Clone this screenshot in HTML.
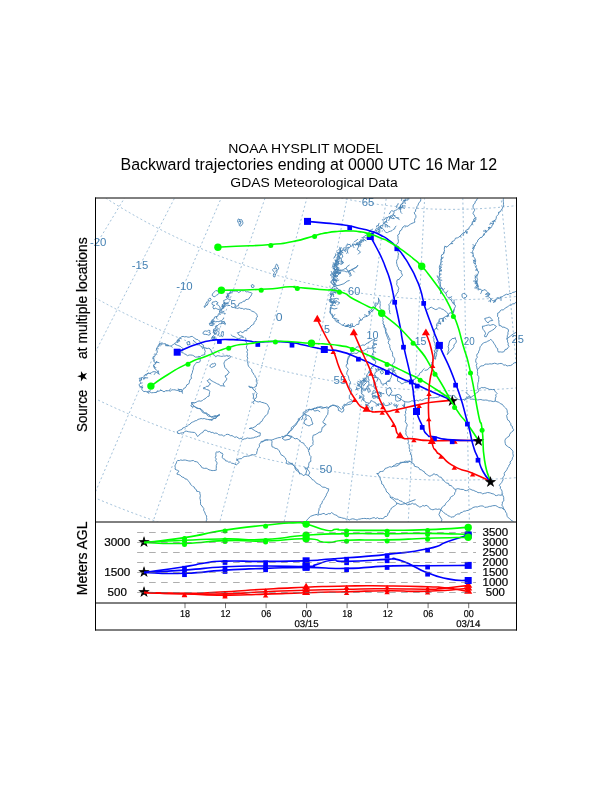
<!DOCTYPE html>
<html><head><meta charset="utf-8"><title>NOAA HYSPLIT MODEL</title>
<style>html,body{margin:0;padding:0;background:#fff}svg{display:block}</style></head>
<body><svg width="612" height="792" viewBox="0 0 612 792">
<rect width="612" height="792" fill="#fff"/>
<defs><clipPath id="mc"><rect x="96" y="198.5" width="420" height="323"/></clipPath></defs>
<g clip-path="url(#mc)"><path d="M157.2,-71.0 L-285.1,334.5 M177.0,-50.8 L-235.5,384.9 M198.2,-32.1 L-182.4,431.7 M220.7,-14.9 L-126.2,474.6 M244.4,0.6 L-67.1,513.4 M269.0,14.4 L-5.4,548.0 M294.6,26.4 L58.6,578.1 M321.0,36.6 L124.6,603.6 M348.1,45.0 L192.2,624.3 M375.6,51.3 L261.1,640.3 M403.6,55.8 L330.9,651.3 M431.7,58.2 L401.4,657.4 M460.0,58.6 L472.1,658.5 M488.3,57.1 L542.7,654.6 M516.3,53.5 L612.9,645.7 M544.1,48.0 L682.2,631.8 M571.4,40.5 L750.4,613.1 M30.1,12.7 A550.7,550.7 0 0 0 594.5,190.6 M-39.0,70.7 A641.0,641.0 0 0 0 617.9,277.9 M-108.7,129.2 A732.0,732.0 0 0 0 641.5,365.8 M-177.3,186.8 A821.5,821.5 0 0 0 664.6,452.2 M-246.6,244.9 A912,912 0 0 0 688.0,539.6" fill="none" stroke="#4682b4" stroke-width="0.6" stroke-dasharray="2.0,2.5" opacity="0.85"/>
<path d="M227.9,294.3 L229.2,293.4 L230.6,292.4 L232.1,291.8 L233.6,291.1 L235.3,291.1 L237.0,291.1 L238.4,292.6 L240.0,291.8 L241.4,290.6 L243.1,290.9 L244.7,290.6 L246.2,291.9 L247.8,291.7 L249.3,292.3 L250.9,292.6 L252.2,293.5 L251.4,294.8 L251.0,296.0 L249.8,297.0 L249.1,298.7 L247.6,299.4 L245.8,299.6 L244.9,301.2 L243.1,301.2 L242.0,302.6 L240.3,302.9 L238.8,303.7 L238.5,305.7 L236.7,306.1 L235.5,307.1 L235.1,308.3 L235.9,307.8 L237.6,308.5 L239.2,307.7 L240.8,308.4 L242.4,308.4 L243.9,309.3 L245.6,308.6 L247.1,309.2 L248.8,309.3 L250.3,309.8 L251.6,311.0 L253.1,311.5 L254.5,312.2 L255.7,313.1 L256.7,314.1 L257.1,315.4 L257.5,316.9 L256.1,318.1 L256.4,320.0 L255.1,321.1 L254.2,322.4 L253.8,324.1 L252.3,324.9 L251.0,325.9 L250.0,327.1 L249.0,328.5 L247.2,328.8 L246.7,330.8 L244.7,330.5 L243.7,332.1 L242.1,332.6 L240.5,331.4 L239.0,332.5 L237.3,332.8 L238.1,333.6 L239.1,335.2 L240.6,335.8 L242.1,336.0 L243.7,337.3 L241.5,337.1 L240.1,338.3 L238.5,338.5 L236.8,338.3 L235.4,337.2 L234.0,336.6 L232.5,336.1 L230.8,334.6 M227.9,294.3 L227.3,295.8 L225.9,296.9 L227.5,298.4 L226.2,299.4 L224.9,300.0 L223.3,300.9 L224.6,302.0 L224.4,303.0 L223.4,303.7 L222.3,304.8 L222.2,306.2 L222.1,307.3 L223.9,307.9 L222.0,308.7 L220.4,309.3 L219.6,310.8 L219.5,312.3 L220.3,312.8 L219.2,313.2 L218.2,314.6 L217.9,316.2 L216.0,316.6 L214.5,317.1 L214.0,319.1 L212.4,319.7 L211.5,320.9 L210.7,322.6 L212.6,322.1 L214.1,321.6 L215.7,321.8 L217.3,321.5 L218.9,321.7 L220.5,320.7 L221.7,322.1 L222.1,322.3 L221.4,323.9 L219.5,323.7 L218.3,325.0 L217.0,325.9 L215.4,326.2 L215.4,326.7 L215.8,328.0 L215.2,328.7 L213.5,329.3 L213.7,331.1 L213.0,332.5 L214.6,333.0 L214.5,334.5 L213.3,335.7 L212.6,337.1 L211.3,338.0 L212.5,339.2 L214.5,341.2 M212.1,295.4 L212.5,293.9 L213.5,292.6 L214.8,291.6 L215.8,290.5 L217.1,290.8 L218.1,291.3 L219.2,292.9 L218.1,294.4 L216.6,295.2 L215.4,296.2 L214.1,296.8 L212.1,295.4 M208.3,299.5 L209.9,297.9 L211.2,299.2 L209.9,301.1 L208.3,301.1Z M205.8,303.6 L207.2,301.5 L208.3,302.8 L207.2,305.2 L205.8,305.7Z M204.1,306.4 L205.0,305.7 L205.4,307.0 L204.4,307.4Z M212.5,302.0 L214.2,301.9 L215.4,301.3 L217.0,301.7 L218.1,303.0 L216.3,304.0 L217.4,304.7 L218.8,305.5 L219.7,306.8 L220.4,308.4 L219.0,309.5 L217.6,309.2 L216.3,308.5 L215.1,308.0 L214.1,309.2 L213.0,307.9 L213.0,306.4 L214.7,305.4 L212.9,305.1 L211.9,303.9 L212.5,302.0 M209.3,323.2 L212.1,324.0 L214.5,323.7 L212.9,325.7 L209.9,325.3Z M203.9,331.4 L205.4,330.9 L207.1,331.3 L208.6,330.3 L209.9,330.5 L209.9,331.4 L208.9,332.6 L210.6,333.2 L210.3,334.3 L208.8,335.2 L207.3,334.6 L205.7,334.4 L204.0,334.3 L202.8,333.4 L203.9,331.4 M217.0,330.6 L218.1,331.7 L219.3,332.7 L218.6,334.2 L218.5,335.3 L219.5,336.2 L220.4,336.1 L221.7,336.1 L221.1,334.6 L221.6,333.4 L221.9,331.6 L223.4,331.7 L223.4,333.6 L223.3,335.2 L222.4,337.1 M159.0,343.9 L160.5,343.3 L162.1,342.9 L163.6,343.8 L165.3,343.7 L166.6,344.6 L168.1,345.1 L169.5,345.9 L171.1,346.1 L172.2,345.2 L173.6,344.4 L174.6,343.3 L176.3,342.6 L177.1,341.2 L177.9,339.8 L178.9,338.5 L180.3,337.8 L181.6,336.7 L183.1,336.4 L184.7,336.9 L186.3,336.6 L187.9,337.2 L189.6,337.1 L191.0,336.5 L192.3,336.4 L193.5,337.4 L194.8,338.3 L196.1,339.3 L197.8,339.6 L198.9,340.7 L200.2,341.6 L201.3,342.8 L201.8,344.4 L203.6,345.2 L203.2,347.2 L204.4,348.4 L204.7,349.9 L205.3,351.4 L204.7,352.7 L204.9,354.6 L203.1,355.0 L201.6,355.4 L200.4,356.6 L198.4,356.4 L199.0,357.7 L199.9,358.9 L200.4,360.1 L199.8,361.9 L198.2,362.5 L196.4,362.4 L195.6,363.7 L194.6,364.8 L193.8,366.2 L193.3,367.7 L193.3,369.4 L192.6,370.8 L192.4,372.5 L191.8,373.8 L191.2,375.2 L191.1,376.8 L191.6,378.4 L190.0,379.6 L189.5,381.1 L189.3,382.7 L188.5,384.1 L186.8,384.8 L186.2,386.4 L185.3,387.8 L183.7,388.4 L182.9,389.8 L181.9,391.0 L180.9,391.2 L179.1,391.6 L177.9,390.3 L176.2,390.3 L175.0,389.8 L173.5,389.8 L171.9,389.8 L170.5,391.1 L168.8,390.7 L167.2,390.8 L165.6,390.8 L164.0,391.9 L162.5,390.9 L160.9,390.2 L159.4,391.0 L157.8,391.3 L156.5,392.4 L154.9,392.5 L153.4,392.6 L151.7,392.8 L150.3,392.3 L148.7,391.2 L147.2,392.1 L145.8,391.4 L143.9,391.6 L142.6,390.6 L141.8,389.3 L142.1,388.4 L142.9,386.9 L140.8,387.4 L139.6,386.2 L139.1,384.8 L139.8,383.7 L141.2,383.1 L141.0,382.5 L139.7,381.4 L139.9,379.7 L139.2,378.3 L141.0,378.1 L142.4,377.5 L143.9,378.1 L145.2,377.9 L144.0,376.5 L144.1,375.5 L145.6,374.9 L146.8,373.7 L148.4,373.3 L150.2,373.5 L151.5,372.6 L152.9,371.8 L154.6,371.6 L156.1,372.1 L157.5,373.1 L159.4,374.3 L157.9,372.6 L157.6,371.0 L156.4,370.0 L155.1,369.0 L154.2,367.6 L153.5,366.2 L153.8,364.6 L155.5,363.9 L155.3,362.5 L153.8,361.5 L154.0,359.6 L153.3,358.3 L153.1,356.8 L155.0,356.2 L155.3,354.3 L156.5,353.4 L157.3,352.2 L157.1,350.6 L156.4,349.0 L157.0,347.4 L158.7,346.5 L159.0,343.9 M174.5,343.9 L176.0,344.6 L177.4,345.3 L178.9,345.8 L180.4,346.4 L181.4,347.4 L182.8,348.3 L183.8,349.6 L182.1,350.8 L181.6,352.5 L183.4,353.0 L184.6,353.9 L186.0,354.5 L187.4,355.7 L189.2,355.0 L190.8,355.0 L192.4,355.2 L193.9,355.9 L195.3,357.1 L198.2,357.0 M186.8,342.3 L189.2,341.4 L190.1,344.4 L187.6,345.0Z M245.2,337.5 L246.0,339.0 L245.4,340.8 L246.3,342.2 L247.0,343.8 L246.9,345.4 L246.3,347.1 L246.7,348.6 L247.8,350.1 L246.8,351.8 L247.5,353.4 L247.3,355.0 L247.1,356.6 L247.8,358.2 L247.1,359.8 L247.3,361.4 L247.9,363.0 L248.0,364.7 L248.5,366.2 L249.6,367.5 L250.7,368.6 L251.8,369.8 L251.9,371.7 L253.1,372.8 L253.7,374.3 L254.8,375.5 L255.3,377.1 L256.5,378.3 L256.3,380.1 L256.4,381.7 L257.4,383.1 L256.3,384.5 L256.4,386.3 L255.0,386.9 L253.5,387.8 L251.9,387.2 L250.4,386.9 L248.9,386.0 L248.7,386.4 L249.9,387.5 L251.6,387.6 L252.9,388.7 L253.8,390.1 L255.1,390.9 L255.9,392.2 L257.1,393.5 L256.3,395.0 L256.6,396.7 L255.9,398.2 L254.5,399.3 L254.4,401.0 L252.8,402.1 L254.1,404.1 M193.3,340.0 L194.0,341.5 L195.6,342.2 L196.5,343.6 L198.4,343.6 L199.5,344.8 L200.4,346.1 L201.9,346.9 L202.6,348.7 L204.2,347.4 L205.7,348.1 L207.1,348.5 L209.0,348.1 L210.3,349.1 L211.1,350.4 L211.4,351.9 L213.0,353.0 L213.1,354.6 L214.5,355.2 L215.6,356.8 L217.2,355.7 L218.8,355.8 L220.3,356.2 L221.9,356.4 L223.4,356.0 L225.1,356.1 L226.6,355.7 L228.1,356.3 L229.9,355.7 L230.7,356.7 L229.7,358.1 L228.0,358.6 L226.9,359.9 L225.3,360.3 L224.6,361.7 L223.9,363.1 L224.2,364.4 L224.5,366.0 L225.0,367.7 L226.1,368.9 L227.4,369.9 L228.0,371.2 L229.4,372.4 L227.9,373.5 L227.2,375.0 L225.3,375.6 L225.4,377.2 L226.8,378.3 L226.5,379.9 L225.4,381.1 L224.5,382.5 L223.1,383.7 L223.8,385.4 L224.7,386.3 L223.7,386.0 L222.2,385.7 L220.4,385.9 L219.2,384.4 L217.7,384.0 L216.3,383.3 L214.9,382.5 L213.5,381.8 L212.1,381.0 L210.7,380.3 L209.6,378.7 L208.3,380.2 L207.2,380.7 L208.3,382.0 L209.1,383.0 L210.6,383.8 L209.2,384.8 L208.3,386.4 L206.4,386.3 L205.2,387.5 L203.5,387.7 L203.6,388.8 L205.0,388.7 L206.5,389.5 L208.0,389.9 L209.2,390.4 L209.8,391.5 L209.5,392.8 L209.3,394.3 L209.1,396.1 L207.3,396.7 L206.2,397.8 L205.0,398.8 L203.5,399.5 L202.3,400.6 L200.8,401.2 L199.1,400.9 L197.5,401.4 L196.1,402.3 L194.5,402.8 L192.9,402.5 L191.5,402.7 L191.8,404.4 L190.8,406.0 L192.4,406.9 L194.3,406.6 L195.7,407.5 L197.0,408.4 L198.7,408.4 L200.5,408.6 L201.2,410.3 L202.0,411.8 L203.3,412.8 L204.8,413.2 L206.7,412.9 L207.7,414.4 L209.3,414.8 L210.2,416.5 L211.8,417.1 L213.5,417.1 L215.0,416.4 L216.7,416.5 L218.2,415.8 L219.6,415.1 L219.3,415.3 L217.8,415.9 L216.5,416.7 L215.7,418.6 L213.8,418.2 L212.4,419.1 L209.6,420.1 M209.6,366.1 L210.8,365.1 L211.8,363.8 L213.5,363.8 L214.8,363.0 L215.3,363.7 L215.6,364.8 L214.7,366.3 L213.1,366.8 L211.6,367.6 L209.6,366.1 M191.8,402.0 L192.2,403.5 L192.8,405.1 L194.3,406.0 L195.3,407.1 L196.9,407.6 L198.2,408.5 L199.9,408.8 L201.2,409.7 L202.7,410.4 L203.4,412.0 L204.8,412.9 L206.4,413.5 L207.1,415.1 L208.4,416.2 L210.2,416.3 L211.7,416.9 L213.3,416.3 L214.7,415.7 L216.4,415.8 L218.0,415.5 L219.5,415.0 L219.4,414.4 L218.1,415.2 L217.2,416.7 L216.1,417.9 L214.5,418.3 L213.0,418.9 L212.1,420.5 L210.5,419.7 L209.0,419.6 L207.4,419.4 L205.8,419.1 L204.3,418.5 L202.6,418.8 L201.1,418.5 L199.5,419.0 L198.0,419.4 L196.7,420.5 L195.1,420.8 L193.8,421.6 L192.3,422.2 L190.9,423.0 L189.9,424.3 L188.4,425.0 L187.2,426.2 L185.7,426.7 L184.3,427.5 L182.7,428.0 L181.9,429.5 L180.2,430.0 L178.7,430.6 L177.2,431.6 L177.5,433.1 L179.2,433.7 L180.7,433.1 L182.3,432.9 L183.8,432.5 L185.1,431.2 L186.7,431.2 L188.3,431.7 L189.7,431.9 L191.3,432.2 L192.9,432.3 L194.6,432.5 L195.9,433.6 L196.7,435.1 L197.7,436.6 L198.9,435.2 L200.1,434.1 L201.3,433.1 L202.8,432.5 L203.6,430.9 L205.0,430.0 L206.7,430.5 L208.1,431.7 L209.8,431.5 L211.1,432.5 L212.8,432.4 L214.2,433.4 L215.9,433.0 L217.4,433.5 L218.8,434.8 L220.3,435.0 L222.1,434.9 L223.4,436.0 L224.7,435.8 L225.9,434.6 L227.3,434.3 L229.0,434.6 L230.3,435.7 L232.0,435.6 L233.4,436.4 L234.8,437.4 L236.6,436.8 L238.0,437.8 L239.4,438.7 L241.3,438.0 L242.5,439.8 L244.2,438.9 L245.8,438.7 L247.2,437.9 L248.9,438.3 L250.5,438.3 L252.1,438.0 L253.7,437.8 L255.2,437.0 L256.8,437.0 L258.2,436.2 L259.9,436.0 L260.3,434.3 L260.2,432.8 L258.2,432.7 L257.0,431.7 L255.5,431.1 L254.2,430.2 L252.8,429.4 L251.4,428.5 L249.2,428.6 L251.0,427.9 L252.7,427.9 L254.2,427.1 L255.7,426.5 L256.7,425.0 L258.0,424.1 L259.7,423.8 L260.3,422.1 L261.9,421.4 L262.6,419.9 L263.3,418.4 L264.5,417.4 L265.2,415.9 L266.6,414.9 L267.8,413.8 L268.1,412.0 L268.4,410.5 L269.4,409.0 L269.1,407.4 L268.2,406.1 L267.5,404.5 L266.1,403.6 L264.5,403.1 L263.0,402.6 L261.4,402.3 L260.0,401.5 L258.2,402.0 L256.6,401.5 L255.2,400.7 L254.1,399.3 L253.6,397.7 L253.5,396.1 L252.9,393.1 M260.4,442.2 L261.8,441.3 L263.5,441.3 L264.9,440.5 L266.4,439.9 L268.0,439.9 L269.7,439.9 L271.3,440.0 L272.9,439.7 L274.4,439.0 L275.9,438.5 L277.4,438.0 L279.0,437.6 L280.7,437.6 L281.9,436.3 L283.7,436.7 L284.9,435.4 L286.7,435.3 L287.6,433.7 L288.9,432.9 L289.8,431.5 L290.9,430.4 L292.3,429.5 L293.0,428.1 L294.0,426.9 L295.1,425.7 L296.4,424.6 L297.0,423.1 L297.4,421.4 L299.1,420.6 L300.0,418.6 M271.2,440.2 L272.1,441.7 L271.8,443.3 L271.8,445.0 L272.0,446.8 L273.8,447.3 L275.0,448.3 L276.8,448.6 L278.2,449.5 L279.2,450.8 L279.9,452.3 L280.6,453.7 L281.5,455.2 L283.2,455.7 L284.2,457.0 L285.5,458.0 L285.9,459.6 L286.9,461.0 L286.3,462.8 L287.3,464.0 L289.0,464.1 L290.6,463.6 L292.3,463.2 L292.9,464.9 L294.3,465.9 L295.2,467.2 L295.4,468.9 L296.2,470.4 L297.7,471.2 L299.0,472.3 L300.0,474.5 M282.0,438.2 L286.9,435.3 L291.8,436.3 L289.8,439.2 L284.9,440.2Z M350.1,354.4 L349.9,356.0 L349.1,357.4 L348.1,358.7 L347.5,360.2 L347.1,361.8 L347.4,363.4 L346.3,364.9 L346.2,366.5 L347.2,367.9 L348.3,369.3 L347.4,371.0 L346.9,372.4 L346.7,374.2 L347.9,375.5 L348.6,376.9 L348.8,378.6 L349.2,380.1 L350.3,381.5 L350.4,383.0 L349.7,384.5 L349.2,385.8 L349.4,387.5 L350.8,388.4 L351.6,389.8 L351.6,391.5 L350.6,392.9 L350.3,394.6 L349.2,395.7 L349.4,396.9 L349.2,398.6 L350.6,399.6 L352.0,400.3 L353.0,401.6 L352.7,402.3 L351.7,403.2 L350.5,404.1 L349.0,404.4 L347.5,404.8 L346.0,405.2 L344.4,404.1 L343.4,405.6 L342.3,406.6 L342.4,407.3 L343.5,408.4 L343.9,409.9 L343.1,411.7 L341.5,412.2 L340.1,411.0 L338.4,410.5 L338.3,408.4 L337.3,407.1 L335.9,406.0 L334.3,405.6 L332.7,405.2 L331.2,406.0 L329.9,407.0 L328.3,407.5 L326.6,406.9 L325.1,407.7 L323.5,407.6 L322.0,407.0 L320.4,406.5 L318.8,407.3 L317.2,407.1 L315.7,408.0 L314.1,408.2 L312.9,409.3 L311.4,409.9 L309.4,409.4 L308.5,411.0 L307.2,411.9 L305.5,412.4 L304.3,413.5 L303.7,415.1 L302.7,416.3 L302.6,418.0 L301.4,420.1 M363.9,380.0 L363.7,381.7 L362.3,382.8 L361.6,384.3 L361.6,386.0 L361.6,387.6 L361.5,389.1 L361.5,390.7 L361.3,392.3 L361.7,394.0 L363.3,394.7 L364.1,396.1 L363.2,397.3 L363.0,398.9 L363.1,400.3 L364.8,400.9 L365.7,402.6 L367.4,402.7 L369.0,403.3 L370.4,402.5 L370.9,400.6 L372.4,400.9 L373.5,402.0 L375.2,402.3 L376.2,404.0 L377.8,404.3 L379.4,404.0 L381.1,404.8 L382.5,403.5 L383.9,404.3 L385.2,405.5 L386.9,405.6 L390.0,404.5 M360.3,382.5 L361.6,381.6 L362.9,380.7 L364.2,380.1 L365.7,381.1 L367.2,381.1 L368.8,381.7 L368.9,383.5 L368.8,384.9 L367.5,386.0 L366.9,387.4 L366.1,389.0 L364.4,389.0 L362.7,389.0 L361.9,387.5 L360.5,386.8 L359.6,385.5 L360.3,382.5 M371.7,393.9 L376.6,392.3 L381.5,393.9 L378.2,396.4 L373.3,396.4Z M312.9,408.6 L314.5,411.1 L317.8,410.3 L320.2,411.9 M378.2,297.6 L378.7,299.1 L379.6,300.5 L380.2,302.1 L380.0,303.7 L380.3,305.3 L379.8,307.0 L380.1,308.6 L381.6,309.8 L381.7,311.5 L383.0,312.6 L383.5,314.3 L383.5,316.0 L382.5,317.5 L383.2,319.1 L382.7,320.6 L383.4,322.0 L382.9,323.8 L384.3,325.1 L384.3,326.8 L385.5,328.0 L386.1,329.5 L385.7,331.4 L386.7,332.7 L387.2,334.2 L388.1,335.5 L388.5,337.1 L389.6,338.4 L390.0,340.1 M335.8,271.4 L337.4,271.4 L338.9,270.9 L340.3,270.0 L342.0,270.2 L343.5,269.5 L345.1,268.5 L346.7,269.0 L347.6,270.7 L349.1,271.8 L350.4,270.4 L351.5,269.4 L353.1,268.9 L354.8,268.4 L356.0,267.4 L357.8,265.7 M349.6,271.4 L351.3,275.5 L349.2,276.3 M345.6,269.0 L347.2,266.5 L349.6,264.9 M334.1,286.1 L339.0,285.3 L343.9,283.7 L347.2,281.2 L349.6,280.4 M332.8,279.6 L336.6,280.4 L337.4,278.0 M333.3,292.7 L337.4,291.9 L339.0,289.4 M332.8,303.3 L337.4,301.7 L339.8,302.8 L337.4,304.9 M331.7,299.2 L336.6,298.4 L339.0,299.2 M330.0,307.4 L334.1,309.0 L337.4,308.2 M420.5,198.0 L420.8,199.7 L420.5,201.3 L419.0,202.5 L418.4,203.9 L417.9,205.4 L416.9,206.7 L416.7,208.4 L415.6,209.7 L415.6,211.4 L414.1,212.7 L415.0,214.3 L415.9,215.7 L415.9,217.4 L414.8,218.9 L414.5,220.4 L414.9,222.2 L413.4,222.8 L412.0,223.4 L410.5,224.1 L409.2,224.9 L408.1,226.2 L406.2,226.2 L404.8,227.4 M405.4,225.0 L404.4,226.2 L402.9,227.0 L402.1,228.5 L401.5,230.0 L399.9,230.9 L399.5,232.5 L399.2,234.1 L397.6,235.2 L398.1,237.0 L397.9,238.5 L398.3,240.1 L398.4,241.6 L398.0,243.2 L396.3,244.5 L397.2,246.1 L397.0,247.8 L398.0,249.2 L398.1,250.8 L397.9,252.4 L398.5,253.9 L398.2,255.4 L398.0,257.0 L397.9,258.6 L396.8,260.0 L396.6,261.6 L396.6,263.1 L397.1,264.7 L397.2,266.1 L398.2,267.1 L398.6,268.9 L399.4,270.2 L401.3,270.8 L401.2,272.7 L402.0,274.0 L402.4,275.7 L401.2,276.8 L400.0,277.9 L399.2,279.4 L397.4,279.7 L396.8,281.3 L397.0,282.7 L396.6,284.4 L397.4,285.8 L398.3,287.2 L398.8,288.7 L398.1,290.2 L398.2,291.8 L397.1,293.0 L396.3,294.4 L395.8,295.9 L394.6,296.9 L394.2,298.8 L392.4,299.2 L391.3,300.4 L390.7,302.0 L390.1,303.3 L388.8,304.6 L389.3,306.2 L389.2,307.8 L389.1,309.4 L389.7,310.9 L389.6,312.6 L390.4,314.1 M478.4,198.0 L477.0,198.9 L476.5,200.6 L475.1,201.5 L475.1,203.2 L473.6,204.4 L473.0,206.0 L473.2,207.7 L474.4,209.1 L474.5,210.7 L473.4,212.1 L473.0,213.8 L474.3,215.1 L474.7,216.6 L475.7,218.0 L473.8,219.0 L473.7,220.7 L472.3,221.8 L472.2,223.6 L471.2,224.9 L470.4,226.3 L469.1,227.3 L468.8,229.1 L466.9,229.5 L465.8,230.6 L465.2,232.4 L463.4,232.7 L462.2,233.7 L461.2,235.1 L460.0,236.1 L458.8,237.2 L457.4,237.9 L455.5,238.1 L454.8,239.7 L453.8,241.0 L452.0,241.5 L451.6,243.3 L450.0,244.0 L449.0,245.3 L447.9,246.1 L446.8,247.1 L445.3,246.4 L444.6,246.6 L444.4,248.0 L444.3,249.6 L444.6,251.0 L443.7,252.1 L443.5,254.0 L441.7,254.8 L441.3,256.4 L441.5,258.1 L440.9,259.6 L441.0,261.2 L440.8,262.8 L440.4,264.3 L439.5,265.8 L439.3,267.4 L439.7,269.1 L439.8,270.7 L439.3,272.2 L439.4,273.9 L439.8,275.5 L438.7,277.1 L439.2,278.7 L439.8,280.2 L440.1,281.8 L440.6,283.4 L439.9,285.0 L439.9,286.6 L439.4,288.1 L440.2,289.6 L440.6,291.2 L440.7,294.1 M503.5,198.0 L503.3,199.6 L503.2,201.2 L503.5,202.8 L503.4,204.3 L503.8,206.0 L502.6,207.4 L502.2,208.9 L501.1,210.1 L500.5,211.6 L498.6,212.3 L498.7,214.2 L497.4,215.3 L496.4,216.5 L496.2,218.3 L495.6,219.8 L494.5,221.0 L493.1,222.1 L493.6,224.1 L492.1,225.1 L491.7,226.7 L490.7,228.0 L489.1,228.8 L488.2,230.1 L487.1,231.2 L485.7,232.2 L484.7,233.3 L484.2,235.1 L482.7,235.8 L481.9,237.4 L480.0,237.7 L479.1,239.0 L477.8,240.1 L477.4,241.9 L476.2,242.9 L475.7,244.2 L474.7,245.5 L473.8,246.9 L473.8,248.6 L473.1,250.1 L472.5,251.6 L473.1,253.3 L473.2,254.9 L473.4,256.5 L474.5,257.9 L475.4,259.3 L475.7,260.9 L475.3,262.6 L475.2,264.3 L476.4,265.6 L475.8,267.4 L476.9,268.8 L476.9,270.5 L478.7,271.6 L478.2,273.3 L477.5,274.8 L476.8,276.2 L476.9,277.9 L477.6,279.4 L477.0,281.0 L476.9,282.7 L477.6,284.2 L478.4,287.2 M474.8,275.5 L475.6,276.9 L475.2,278.6 L475.8,280.1 L476.7,281.5 L476.4,283.3 L477.5,284.6 L477.8,286.2 L477.9,288.0 L478.9,289.3 L480.9,289.3 L481.9,290.6 L483.5,290.2 L485.1,289.5 L486.3,291.0 L487.5,292.0 L488.5,293.3 L490.1,294.2 L488.7,295.2 L487.8,296.5 L489.1,297.1 L490.3,298.1 L491.3,299.5 L492.4,300.5 L493.9,300.8 L494.9,299.9 L496.7,299.7 L497.4,297.7 L499.4,298.0 L500.7,297.1 L502.2,296.7 L503.6,295.7 L505.0,295.0 L506.4,294.2 L508.2,294.6 L509.5,293.4 L511.3,293.6 L512.5,292.4 L514.2,292.2 L515.6,291.5 L517.2,290.6 M517.2,302.4 L515.5,302.4 L514.4,303.9 L512.6,303.7 L511.4,305.1 L509.7,305.2 L508.4,306.2 L507.1,307.1 L505.6,307.7 L504.5,309.0 L503.2,309.9 L501.3,309.9 L500.1,310.9 L499.3,312.5 L497.6,313.2 L497.7,314.9 L497.5,316.5 L498.8,317.7 L498.4,319.5 L499.0,321.0 L498.8,322.5 L499.1,323.8 L499.2,325.6 L501.2,325.8 L502.2,327.2 L504.0,327.1 L505.4,327.8 L506.8,328.5 L508.2,329.3 L508.5,331.0 L507.9,332.5 L508.0,334.2 L507.3,335.7 L507.3,337.3 L506.8,338.8 L507.6,340.1 L507.5,341.9 L508.3,343.2 L508.0,344.9 L509.0,346.4 L507.9,347.8 L507.0,349.1 L505.1,349.5 L504.5,351.2 L503.1,352.0 L501.7,352.1 L500.3,351.9 L498.4,352.1 L497.7,350.4 L497.7,348.6 L496.2,347.6 L495.6,346.1 L495.0,344.6 L493.8,343.5 L493.2,341.9 L492.1,340.8 L490.8,339.2 L489.3,340.6 L487.8,341.1 L486.4,342.0 L484.8,342.4 L483.4,343.1 L482.1,344.0 L481.3,345.5 L480.2,346.7 L479.8,348.2 L479.6,349.8 L478.7,351.2 L478.5,352.9 L477.1,354.0 L476.7,355.6 L477.3,357.4 L476.1,358.8 L475.7,360.5 L475.8,362.1 L477.0,363.6 L476.2,365.3 L476.8,366.9 L476.9,368.5 L477.6,370.0 L477.4,371.6 L477.7,373.2 L477.3,374.9 L478.6,376.3 L478.9,377.9 L478.6,379.5 L478.6,381.2 L478.0,382.7 L477.8,384.3 L477.6,385.7 L477.8,387.2 L477.7,388.8 L478.7,390.3 L478.2,391.9 L476.6,392.8 L475.3,393.7 L474.5,395.1 L473.1,395.8 L471.0,397.4 M484.6,318.6 L486.1,318.1 L487.7,317.7 L489.1,317.1 L489.9,317.4 L491.1,318.3 L492.0,319.5 L492.7,320.5 L490.9,320.7 L489.4,321.2 L488.2,322.9 L486.6,321.8 L485.6,320.5 L484.6,318.6 M482.4,326.2 L484.0,326.2 L485.5,325.6 L487.1,325.2 L488.6,324.9 L490.2,325.4 L491.8,324.8 L493.5,324.5 L494.9,325.4 L496.4,326.4 L495.2,327.9 L494.1,329.1 L492.7,330.0 L491.3,330.8 L490.0,331.5 L488.5,332.3 L487.9,333.8 L487.1,335.1 L486.3,336.8 L484.6,336.6 L484.6,335.2 L485.6,333.8 L485.1,332.2 L484.3,330.8 L483.2,329.6 L482.6,328.1 L482.4,326.2 M506.6,339.1 L510.4,336.1 L513.4,333.8 L517.2,331.8 M477.1,369.4 L478.6,368.7 L479.5,367.4 L480.6,366.0 L482.3,365.8 L483.9,365.5 L485.0,364.1 L486.7,364.1 L488.3,364.2 L489.9,363.8 L491.5,364.0 L493.0,363.7 L494.6,363.2 L496.1,363.6 L497.6,364.1 L499.3,363.6 L501.1,363.4 L502.6,364.0 L503.9,365.2 L505.6,364.9 L507.1,366.0 L508.7,365.6 L510.4,365.6 L511.9,364.9 L513.1,363.6 L514.5,362.8 L517.2,362.1 M478.6,389.1 L480.1,388.5 L481.4,387.5 L483.1,387.8 L484.8,387.5 L486.2,388.2 L487.8,388.6 L489.3,389.4 L490.9,389.4 L492.5,389.6 L494.3,389.4 L494.9,391.1 L495.9,392.2 L497.1,393.4 L495.7,394.9 L496.1,396.6 L495.4,398.1 L495.2,401.2 M465.7,392.1 L468.7,395.2 L471.0,397.4 L467.2,398.5 L464.2,400.5 M461.9,294.4 L463.3,293.5 L464.8,293.5 L465.8,294.7 L467.0,295.7 L466.3,297.0 L465.1,297.8 L463.4,298.2 L462.2,297.1 L461.9,294.4 M449.8,340.6 L451.2,339.9 L452.2,338.5 L454.0,338.5 L455.3,337.6 L455.4,339.1 L456.3,340.5 L456.2,342.2 L455.3,343.6 L453.9,344.8 L454.0,346.5 L453.2,347.9 L452.2,349.2 L450.9,350.2 L449.9,351.4 L449.0,352.7 L447.7,353.7 L447.3,354.6 L448.0,352.9 L448.1,351.4 L448.7,349.9 L448.7,348.2 L448.1,346.6 L448.8,345.0 L448.9,343.6 L449.8,340.6 M437.2,275.4 L437.4,277.0 L438.6,278.4 L437.8,280.2 L438.7,281.7 L439.0,283.2 L440.2,284.5 L440.6,286.1 L440.9,287.7 L442.6,288.6 L442.7,290.4 L444.1,291.4 L444.9,292.8 L446.3,293.7 L446.4,295.7 L447.6,296.8 L448.7,298.0 L449.6,299.2 L451.3,300.0 L451.9,301.5 L452.7,302.9 L453.8,304.1 L455.2,305.1 L455.4,306.7 L454.5,308.1 L454.1,309.6 L453.2,311.1 L451.8,311.8 L450.5,312.8 L449.0,313.4 L448.0,314.7 L447.0,316.2 L445.3,316.5 L444.1,317.5 L442.7,318.3 L441.1,318.7 L439.4,318.9 L439.0,320.7 L438.7,322.3 L437.1,323.3 L436.5,324.8 L436.8,326.6 L436.4,328.2 L434.7,329.3 L434.2,330.9 L434.7,332.6 L434.0,334.1 L434.2,335.8 L433.1,337.3 L434.0,338.9 L433.8,340.6 L434.3,342.1 L435.1,343.6 L435.1,345.2 L435.9,346.7 L436.1,348.3 L436.1,349.9 L436.3,351.6 L434.9,352.9 L434.8,354.5 L434.1,356.0 L434.0,357.6 L432.7,358.9 L433.2,360.8 L431.9,362.0 L431.8,363.7 L431.3,365.2 L430.6,366.7 L429.2,367.7 L428.3,369.1 L426.9,370.0 L424.6,370.4 M426.9,309.3 L428.6,309.2 L429.7,307.8 L431.3,307.2 L432.8,308.1 L434.2,308.9 L435.8,309.6 L437.4,309.0 L438.7,307.9 L440.4,308.1 L441.6,309.0 L443.2,309.4 L444.4,310.5 L445.8,311.3 L446.8,312.6 L448.6,314.3 M436.1,345.2 L436.5,346.8 L436.8,348.3 L437.9,349.7 L437.5,351.2 L436.6,352.7 L436.7,354.4 L436.3,355.9 L435.7,357.4 L435.6,359.2 L434.5,358.9 L435.0,357.2 L434.8,355.6 L434.3,354.0 L435.0,352.4 L434.1,350.7 L435.5,349.3 L435.2,347.7 L436.1,345.2 M287.1,434.3 L288.3,433.2 L288.9,431.7 L290.4,430.9 L291.2,429.5 L291.4,427.5 L292.6,426.5 L294.2,425.7 L295.0,424.3 L296.4,423.4 L297.3,422.1 L298.3,420.7 L298.3,418.8 L300.1,418.1 L301.1,416.8 L302.3,415.7 L303.2,414.4 L303.2,412.3 L304.9,411.7 L306.1,410.6 L307.6,409.9 L309.1,409.2 L310.8,409.5 L312.4,409.1 L313.9,408.5 L315.5,408.6 L317.0,408.2 L318.5,407.3 L320.2,407.5 L321.7,408.3 L323.3,408.0 L325.1,407.3 L326.6,408.1 L327.7,409.1 L328.4,408.8 L328.8,407.3 L330.0,406.1 L331.5,405.7 L333.0,405.1 L334.6,405.3 L336.0,406.0 L337.6,406.1 L338.9,406.8 L339.8,408.2 L341.3,409.4 L342.9,408.1 L344.0,407.0 L344.6,405.3 L346.2,404.6 L347.1,403.2 L348.5,402.4 L350.0,401.8 L351.7,401.7 L353.7,401.0 M304.7,413.7 L306.1,414.6 L307.4,415.4 L309.0,415.9 L310.2,417.0 L311.1,418.3 L311.5,420.0 L312.0,421.5 L312.5,422.9 L313.0,424.0 L311.4,424.6 L310.1,425.3 L309.0,426.0 L307.6,425.4 L306.2,424.9 L304.9,424.1 L304.2,422.6 L304.3,421.4 L304.9,419.9 L306.7,419.2 L305.7,417.8 L306.2,415.9 L304.7,413.7 M328.2,409.8 L328.0,411.4 L327.9,413.0 L327.6,414.6 L326.4,415.8 L325.9,417.4 L324.7,418.5 L324.3,420.0 L323.0,421.4 L323.3,423.0 L325.0,423.7 L326.2,424.6 L324.6,425.1 L323.8,426.8 L322.2,427.4 L321.9,429.0 L321.6,430.6 L321.0,432.1 L319.1,432.2 L317.9,433.2 L316.4,434.0 L315.1,434.8 L313.3,435.1 L312.8,436.8 L312.7,438.4 L312.8,440.0 L313.2,441.5 L312.8,443.1 L313.1,444.5 L312.1,445.7 L310.5,446.5 L309.5,447.7 L309.6,449.6 L308.2,450.9 L309.2,452.4 L309.4,454.1 L310.0,455.6 L311.1,456.7 L310.8,458.0 L310.7,459.6 L310.9,461.4 L309.1,462.4 L308.8,464.0 L308.7,465.6 L308.2,467.1 L307.0,468.8 L308.2,470.2 L309.1,471.4 L309.8,472.9 L308.8,474.4 L308.6,475.9 L310.1,477.0 L311.2,478.1 L312.0,479.5 L313.6,480.2 L314.8,481.2 L315.7,482.6 L317.1,483.5 L318.5,484.2 L319.9,484.8 L321.2,485.8 L322.4,487.2 L324.1,487.2 L325.7,487.6 L327.0,488.6 L328.7,488.8 L328.6,489.9 L328.1,491.4 L327.3,492.8 L326.5,494.2 L326.1,495.8 L325.1,497.1 L324.4,498.5 L323.7,499.9 L322.4,501.1 L322.1,502.7 L321.4,504.2 L320.0,505.3 L320.3,507.2 L319.1,508.4 L319.0,510.1 L318.5,511.6 L318.4,513.2 L318.1,514.7 L318.0,515.5 L319.2,514.3 L321.0,514.4 L322.4,513.7 L324.1,513.4 L325.5,514.6 L327.1,514.4 L328.3,513.5 L330.2,513.9 L331.5,512.5 L332.9,513.5 L334.2,514.5 L335.7,515.0 L337.2,515.6 L338.3,517.1 L340.0,517.3 L341.5,517.7 L343.0,518.2 L344.7,518.4 L346.0,519.2 L347.5,519.0 L349.2,520.0 L350.7,519.3 L352.4,518.8 L354.0,519.0 L355.5,519.5 L357.1,520.1 L358.5,519.2 L360.1,519.1 L361.7,518.6 L363.3,518.5 L364.9,518.4 L366.5,518.7 L368.0,518.5 L369.6,518.9 L371.2,518.5 L372.7,517.9 L374.3,517.6 L375.7,518.6 L377.5,517.6 L379.0,518.8 L380.5,518.4 L382.2,518.7 L383.8,518.1 L384.8,516.5 L386.6,516.4 L387.7,515.2 L387.9,513.4 L389.4,512.4 L389.7,510.7 L390.8,509.5 L391.4,508.0 L392.8,507.1 L394.2,506.2 L395.5,505.3 L396.8,504.2 L396.5,502.6 L395.2,501.5 L394.2,500.3 L393.0,499.2 L391.5,498.4 L390.3,497.3 L390.0,495.5 L389.1,494.2 L388.1,492.9 L386.7,492.0 L386.1,490.5 L385.7,488.8 L384.4,487.8 L383.9,486.2 L383.2,484.7 L381.6,483.8 L381.7,482.0 L380.9,480.6 L380.2,479.2 L380.2,477.5 L378.9,476.5 L378.5,474.8 L376.7,473.6 L378.8,473.4 L379.7,471.7 L381.4,471.5 L383.1,471.2 L384.3,470.1 L385.2,468.4 L386.8,468.0 L388.3,467.4 L389.7,466.7 L391.6,467.1 L393.0,466.2 L394.4,465.4 L395.6,464.2 L397.1,463.6 L399.0,464.0 L400.1,462.3 L401.8,462.4 L403.4,462.4 L404.9,462.4 L406.4,462.4 L407.9,462.5 L410.0,460.8 M288.0,435.3 L289.4,436.1 L290.8,437.0 L292.6,436.9 L293.8,438.2 L295.3,438.8 L297.0,438.4 L298.3,439.5 L299.6,440.2 L300.4,441.6 L301.7,442.6 L303.6,443.0 L304.3,444.5 L305.3,445.8 L306.5,446.9 L307.5,448.2 L308.6,450.0 M304.7,467.6 L306.7,470.6 L305.7,474.5 L308.6,475.5 M304.7,467.6 L307.6,468.6 M288.0,461.8 L289.5,462.5 L290.8,463.4 L292.1,464.4 L293.4,465.1 L294.4,466.2 L295.6,467.2 L296.1,468.8 L297.9,469.5 L298.4,471.1 L299.3,472.5 L300.6,473.5 L302.1,474.2 L303.2,475.6 L305.7,474.5 M404.0,401.0 L404.8,402.4 L404.6,404.1 L404.4,405.8 L404.8,407.3 L406.2,408.7 L406.0,410.3 L405.4,411.9 L405.8,413.6 L404.7,415.0 L405.7,416.7 L405.7,418.2 L405.7,419.8 L405.2,421.5 L406.1,423.0 L407.1,424.4 L407.1,426.0 L406.3,427.6 L406.1,429.2 L405.7,430.7 L406.1,432.4 L405.8,434.0 L406.6,435.5 L407.7,436.8 L408.1,438.4 L408.0,440.1 L408.6,441.6 L407.9,443.3 L409.2,444.8 L409.3,446.4 L409.0,448.0 L409.9,449.4 L409.5,451.2 L410.8,452.5 L410.3,454.3 L411.5,455.7 L411.6,457.3 L412.0,458.9 L411.9,460.5 L411.9,462.8 M390.0,394.0 L391.3,395.1 L393.0,395.3 L394.6,395.3 L396.3,395.5 L397.6,396.6 L398.5,398.2 L400.1,398.7 L401.5,399.5 L402.7,400.5 L404.1,401.3 L405.7,401.8 L407.2,402.0 L408.9,402.0 L410.4,401.6 L411.9,400.7 L413.6,401.1 L415.1,400.7 L416.7,400.2 L418.5,401.1 L419.8,399.6 L421.6,400.4 L423.1,400.0 L424.6,398.9 L426.1,398.6 L427.7,398.4 L429.3,398.3 L430.8,397.7 L432.5,397.8 L434.1,397.8 L435.7,397.4 L437.3,397.3 L438.9,397.0 L440.2,395.5 L441.8,395.2 L443.5,395.7 L445.0,395.3 L446.6,395.4 L448.2,394.9 L449.8,395.5 L451.3,396.1 L453.1,395.3 L454.7,395.8 L455.4,397.8 L457.0,398.2 L458.2,399.4 L459.8,399.7 L461.3,399.9 L462.9,399.6 L464.5,399.3 L465.8,398.2 L467.2,397.5 L469.8,396.0 M469.8,399.0 L471.3,399.2 L473.0,399.1 L474.5,399.6 L476.2,399.1 L477.7,400.0 L479.3,399.6 L480.9,399.5 L482.5,400.0 L484.1,400.2 L485.7,400.0 L487.3,400.2 L488.9,401.0 L490.5,400.8 L492.0,401.3 L493.6,401.6 L495.3,401.0 L496.8,401.7 L498.3,402.1 L499.6,402.8 L500.6,403.8 L502.3,404.3 L503.1,405.7 L504.4,406.8 L505.5,407.9 L506.6,409.1 L507.2,410.6 L507.2,412.2 L508.0,413.9 L506.6,415.3 L506.9,416.9 L507.2,418.3 L507.6,419.9 L509.2,420.8 L509.8,422.3 L510.8,423.6 L510.8,425.4 L512.4,426.4 L512.4,428.1 L513.6,429.4 L513.2,430.9 L511.7,431.8 L510.6,433.0 L509.7,434.3 L509.3,436.1 L507.9,437.0 L506.5,437.9 L505.5,439.1 L505.0,440.3 L505.0,441.9 L505.3,443.5 L505.8,445.1 L507.2,446.1 L508.4,447.1 L510.0,447.7 L511.0,449.1 L512.3,450.2 L513.0,451.7 L512.8,453.4 L513.2,455.0 L513.3,456.4 L512.4,457.8 L512.2,459.4 L511.3,460.8 L510.0,461.9 L510.3,463.9 L509.0,465.0 L508.6,466.6 L507.6,467.9 L507.0,469.4 L506.2,470.8 L505.0,471.9 L504.2,473.4 L504.5,475.2 L503.5,476.6 L502.7,478.0 L503.1,479.8 L502.3,481.2 L501.6,482.7 L500.4,483.9 L499.3,485.3 L500.5,486.8 L500.3,488.5 L501.5,489.8 L502.1,491.3 L502.1,493.0 L502.1,494.5 L503.2,496.0 L503.7,497.5 L503.7,499.1 L503.9,500.8 L502.3,502.0 L502.4,503.7 L501.8,505.1 L502.8,506.4 L503.3,508.0 L504.1,509.4 L505.1,510.6 L505.7,512.1 L506.7,513.4 L506.9,515.1 L507.3,516.6 L508.3,517.8 L509.6,518.6 L510.7,519.8 L511.9,520.8 L513.6,521.6 M392.0,466.8 L393.5,466.1 L395.2,466.1 L396.9,466.0 L398.3,465.1 L399.6,464.2 L400.8,463.1 L402.3,462.4 L403.9,462.1 L405.3,461.2 L407.0,461.4 L408.4,461.2 L410.0,461.4 L411.4,462.2 L412.5,463.4 L414.1,464.1 L414.3,466.1 L416.0,466.7 L417.6,467.1 L419.0,467.9 L419.8,469.6 L421.6,469.8 L422.7,471.1 L424.3,471.6 L425.0,473.3 L426.5,474.0 L427.6,475.2 L428.8,475.8 L430.0,476.3 L431.4,475.4 L432.9,474.9 L434.0,473.5 L435.3,474.9 L437.2,474.5 L438.2,476.0 L439.4,476.9 L441.3,477.3 L442.0,478.8 L443.4,479.7 L444.2,481.1 L445.4,482.2 L446.8,483.1 L448.6,483.4 L449.1,485.3 L451.0,485.5 L452.2,486.5 L453.3,487.7 L454.3,489.1 L455.9,489.4 L457.2,488.7 L458.9,488.8 L460.4,489.3 L462.0,489.4 L463.6,489.5 L464.9,490.5 L466.6,490.6 L468.1,490.0 L469.4,488.9 L470.9,489.4 L472.1,490.1 L473.7,490.4 L475.1,491.2 L476.7,491.7 L478.0,492.7 L479.7,492.6 L481.3,492.9 L482.7,493.9 L484.3,493.3 L485.9,493.1 L487.4,492.5 L489.1,492.7 L490.6,493.1 L492.1,493.7 L493.7,493.9 L495.0,495.3 L496.6,495.6 L498.4,494.9 L499.7,495.1 L501.5,495.3 L502.7,493.7 M455.8,489.7 L455.7,491.4 L454.8,492.7 L454.5,494.4 L453.3,495.6 L451.8,496.4 L450.4,497.3 L450.0,499.0 L449.0,500.3 L447.8,501.3 L446.6,502.4 L445.6,503.6 L445.0,505.3 L443.5,506.1 L442.2,507.1 L440.9,509.6 M390.0,497.7 L391.7,497.2 L393.3,497.5 L394.7,498.9 L396.2,499.2 L397.9,499.2 L399.1,500.4 L400.6,501.0 L402.1,501.4 L403.3,502.7 L404.9,503.0 L406.1,504.2 L407.7,504.9 L409.3,504.3 L410.9,504.2 L412.4,503.3 L413.9,504.2 L415.7,503.9 L416.7,505.4 L418.2,506.0 L419.7,507.1 L421.4,506.6 L422.8,505.5 L424.5,506.1 L426.1,505.3 L427.7,506.0 L428.8,507.3 L429.8,508.7 L431.3,509.4 L432.9,509.8 L434.5,509.3 L435.9,508.9 L437.4,509.4 L439.1,509.0 L440.6,509.5 L441.8,510.7 L443.0,511.7 L444.1,512.9 L445.4,513.9 L446.9,514.4 L448.0,515.8 L449.7,516.1 L450.9,517.3 L452.3,516.9 L453.9,516.9 L455.0,515.4 L456.4,514.6 L457.8,513.9 L459.7,514.1 L460.7,512.5 L462.4,512.4 L463.6,511.1 L465.3,511.1 L466.8,510.5 L468.5,510.4 L469.7,509.2 L471.4,509.0 L472.5,507.7 L474.0,507.2 L475.6,506.8 L477.3,507.0 L478.8,506.4 L480.3,506.0 L481.9,505.9 L483.4,506.1 L484.7,507.4 L486.4,507.2 L487.9,507.0 L489.3,506.4 L490.9,506.3 L492.4,505.8 L494.0,505.6 L495.8,505.6 L497.2,506.4 L498.6,507.3 L500.1,507.8 L501.8,507.8 L503.1,508.9 L504.7,509.6 M440.9,509.6 L438.9,514.6 L441.9,519.6 L440.9,523.6 M206.3,522.4 L206.3,520.7 L206.9,519.2 L206.5,517.6 L206.7,516.0 L205.6,514.7 L205.1,513.2 L204.6,511.8 L203.7,510.6 L203.8,508.5 L202.9,507.3 L202.0,506.0 L200.7,504.8 L200.5,503.2 L200.5,501.5 L200.4,499.9 L199.9,498.4 L200.1,497.0 L200.4,495.4 L199.9,493.8 L200.0,492.3 L198.5,491.5 L196.7,491.3 L196.4,489.7 L194.8,488.7 L194.4,487.2 L192.9,486.5 L191.8,485.4 L190.5,484.4 L189.9,482.7 L188.7,481.6 L187.8,480.3 L186.8,479.1 L185.0,478.9 L184.0,477.5 L182.3,477.1 L181.0,476.2 L179.8,474.9 L178.3,474.5 L176.9,474.1 L177.5,472.6 L179.1,471.4 L177.7,470.4 L176.2,469.8 L175.0,469.1 L175.3,467.6 L174.9,465.9 L175.6,464.4 L176.4,462.9 L176.8,461.4 L177.7,460.4 L179.3,460.6 L180.8,459.9 L182.3,460.4 L184.0,460.0 L185.6,460.1 L187.1,460.5 L188.6,460.9 L190.2,461.1 L191.8,460.7 L193.4,460.5 L194.7,461.5 L196.4,461.7 L197.8,462.3 L198.6,463.6 L199.7,464.8 L201.0,465.9 L201.5,467.3 L202.9,468.0 L204.5,468.4 L206.2,468.2 L207.6,468.9 L209.0,469.8 L210.6,470.2 L212.1,470.6 L213.7,470.5 L215.2,470.4 L216.3,470.2 L216.2,468.6 L216.3,467.0 L216.3,465.4 L217.0,463.8 L216.8,462.1 L215.5,460.8 L216.3,459.0 L215.3,457.5 L216.0,455.9 L215.8,454.3 L216.0,452.7 L216.5,451.8 L217.8,452.2 L219.6,451.5 L220.9,453.1 L222.2,453.1 L222.9,454.4 L222.4,456.0 L222.1,457.6 L223.3,458.7 L224.7,459.1 L225.6,460.9 L227.3,461.1 L228.6,462.1 L230.4,462.0 L231.6,463.2 L233.1,463.4 L234.6,464.0 L236.2,464.9 L237.6,464.0 L238.7,462.8 L239.4,461.9 L238.0,460.8 L236.4,460.1 L238.2,459.1 L239.8,458.7 L241.5,458.7 L242.7,457.4 L244.2,456.6 L245.8,456.4 L247.3,456.1 L249.0,456.0 L250.5,455.4 L251.9,454.6 L253.6,454.9 L255.4,454.7 L256.7,453.7 L256.8,451.9 L257.4,450.6 L257.4,448.9 L258.8,447.6 L259.5,446.2 L259.3,444.4 L260.2,443.1 L261.5,442.2 L263.0,441.7 L264.1,440.2 L265.8,439.9 L268.0,440.0 M404.9,381.3 L406.3,380.4 L407.9,380.2 L409.4,379.8 L410.9,380.3 L412.5,380.4 L414.0,379.7 L415.3,378.7 L416.1,377.3 L417.2,376.3 L418.9,375.6 L419.4,373.9 L420.3,372.6 L421.9,371.9 L422.5,370.3 L424.5,368.4 M237.6,220.6 L238.4,218.9 L240.1,219.8 L241.6,219.6 L242.4,221.1 L242.9,222.5 L242.7,223.8 L241.8,224.9 L240.7,226.2 L239.2,225.5 L239.2,223.6 L237.9,222.4 L237.6,220.6 M239.6,220.1 L240.6,222.6 L240.1,224.6 M238.6,221.3 L241.6,222.1 M276.5,264.0 L277.7,265.0 L277.8,266.5 L278.9,268.0 L278.0,269.5 L276.9,270.8 L276.9,272.6 L275.7,273.7 L275.3,275.3 L274.8,277.0 L273.7,276.8 L273.3,275.4 L273.8,273.9 L274.6,272.4 L273.3,271.2 L272.5,269.7 L273.6,268.5 L275.2,269.0 L275.1,267.1 L275.7,265.6 L276.5,264.0 M276.0,267.6 L277.0,269.6 L275.3,271.6 M251.2,285.3 L253.0,284.5 L254.2,286.0 L253.4,287.6 L251.7,287.3Z M405.4,197.4 L405.1,199.0 L405.5,200.7 L403.7,200.2 L403.3,201.0 L402.9,202.4 L402.4,203.9 L400.8,204.5 L400.5,206.1 L400.2,207.3 L398.9,207.8 L397.7,209.0 L396.9,209.8 L395.4,210.4 L393.8,211.0 L394.1,212.9 L393.4,214.2 L392.5,215.4 L391.1,215.8 L389.7,216.5 L388.0,216.9 L387.1,218.1 L386.6,219.3 L386.5,220.8 L386.1,221.7 L384.8,222.2 L383.8,223.1 L383.0,224.1 L382.8,225.8 L381.0,225.5 L380.2,226.1 L381.0,228.0 L379.4,226.8 L378.4,227.0 L378.1,228.1 L377.5,228.9 L376.1,228.7 L375.4,229.8 L375.1,231.4 L374.2,232.2 L372.8,231.4 L371.9,232.5 L371.3,233.8 L369.5,233.5 L370.2,235.1 L369.4,235.1 L368.0,235.2 L368.0,236.8 L367.0,237.9 L365.9,238.1 L364.4,237.3 L362.9,238.5 L363.2,240.3 L362.1,240.3 L360.8,239.6 L360.4,240.8 L359.6,242.1 L358.4,242.8 L356.9,243.3 L356.0,245.3 L354.5,244.4 L352.6,243.9 L352.3,245.6 L351.7,246.3 L350.5,245.2 L350.3,247.0 L349.0,248.0 L347.5,247.7 L346.0,247.9 L344.7,247.8 L343.1,248.3 L343.0,250.3 L341.5,251.3 L339.8,250.1 L339.9,251.8 L339.7,253.3 L337.8,253.4 L337.6,254.7 L338.5,256.4 L336.6,257.7 L338.1,259.6 L336.2,260.1 L335.9,260.1 L335.8,261.5 L335.3,262.7 L334.8,264.1 L334.6,265.5 L335.1,267.0 L334.5,268.2 L334.5,269.2 L335.1,270.5 L333.7,271.3 L333.4,272.7 L332.4,274.0 L331.8,275.4 L332.9,276.6 L333.8,277.9 L333.1,279.2 L331.4,280.5 M407.5,198.8 L409.7,198.7 M406.2,198.0 L407.5,198.8 L409.0,198.9 M404.6,200.0 L404.8,202.0 L405.4,204.0 M403.8,201.0 L405.8,200.1 L408.1,200.0 M401.4,204.2 L402.7,203.4 L403.9,202.6 M401.0,207.5 L398.7,209.7 M400.7,205.2 L401.0,207.5 L400.7,209.8 M399.9,206.3 L401.3,207.5 L403.1,207.8 L404.7,208.6 M399.1,207.2 L400.1,208.8 L400.5,210.6 L400.9,212.4 L402.1,213.7 M402.5,206.8 L402.6,204.9 M398.2,208.2 L399.7,207.8 L401.1,207.7 L402.3,206.8 L403.7,205.8 L405.6,206.0 M393.9,215.4 L395.5,215.8 M396.7,217.8 L399.2,218.0 M392.8,213.9 L393.7,215.1 L394.7,216.5 L395.9,217.4 L397.6,218.0 L399.6,220.1 M391.0,215.7 L390.2,217.4 L389.3,219.1 L388.6,220.9 M390.9,217.9 L393.4,215.6 M392.7,218.5 L393.9,217.6 M389.1,217.5 L390.9,217.9 L392.7,218.5 L394.6,218.6 M386.1,221.9 L386.9,220.5 M384.5,222.1 L386.1,221.9 L387.5,222.6 M385.2,224.1 L385.3,227.4 M387.0,224.9 L387.3,227.5 M383.6,223.0 L385.2,224.1 L387.0,224.9 L388.4,226.3 L390.2,227.1 M380.9,225.8 L380.0,227.5 L379.8,229.4 L379.9,231.3 L379.6,233.2 M379.9,226.7 L381.3,227.6 L381.9,229.1 M379.0,229.2 L376.4,230.5 M379.1,230.8 L377.2,233.6 M378.9,227.5 L379.0,229.2 L379.1,230.8 L378.8,232.4 M375.9,230.0 L376.6,231.1 L377.1,232.3 M370.0,235.1 L371.1,236.2 L372.5,237.0 M368.0,236.8 L369.5,238.0 L371.5,238.3 L373.1,239.5 L374.1,241.1 M366.9,237.4 L368.5,238.1 L369.8,239.2 M363.5,239.3 L365.0,240.2 L366.4,241.0 M362.5,240.9 L364.7,239.5 M361.2,240.5 L362.5,240.9 L363.8,241.4 M360.0,241.0 L360.0,243.1 L359.0,245.0 L358.6,247.0 M360.5,242.2 L361.9,241.3 M358.9,241.6 L360.5,242.2 L362.2,242.4 M359.7,243.9 L360.7,246.5 M356.5,242.8 L358.2,243.2 L359.7,243.9 L361.4,244.2 M354.3,244.2 L356.0,244.4 L357.6,244.6 L359.3,244.5 M353.2,244.8 L353.3,246.5 L354.2,247.9 M347.5,252.2 L348.5,253.1 M348.4,246.9 L348.0,248.7 L347.6,250.4 L347.5,252.2 L346.5,253.8 M346.2,248.2 L346.1,249.7 L345.9,251.2 M344.4,250.0 L345.6,252.1 M342.7,250.0 L344.4,250.0 L345.9,249.5 M341.8,252.1 L343.4,252.9 M341.5,250.5 L341.8,252.1 L341.5,253.7 L342.4,255.2 L342.8,257.0 L341.2,258.3 M339.7,252.8 L336.6,252.6 M340.3,251.0 L339.7,252.8 L340.1,254.7 M339.4,251.9 L340.3,253.1 L340.3,254.5 M338.7,252.9 L340.4,252.2 L342.0,251.1 M340.5,251.9 L340.1,248.9 M337.9,254.0 L339.2,253.2 L340.4,252.1 L340.8,250.6 L340.3,249.1 L339.7,246.9 M341.3,261.1 L343.9,262.8 M337.4,255.1 L338.9,255.9 L339.8,257.2 L341.0,258.4 L341.5,260.0 L341.1,262.9 M337.2,256.4 L338.8,256.9 L340.2,258.0 M337.9,257.7 L339.7,258.7 M339.2,256.4 L338.5,253.7 M340.5,255.1 L339.6,252.8 M336.6,258.9 L337.9,257.7 L339.2,256.4 L340.5,255.1 L341.8,253.8 M337.1,261.6 L338.0,263.5 M335.6,261.4 L337.1,261.6 L338.6,261.9 M336.2,261.2 L337.7,261.4 M338.9,259.2 L339.2,257.4 M335.1,262.6 L336.2,261.2 L337.3,259.8 L338.9,259.2 L340.6,258.6 M341.7,264.0 L342.9,260.8 M334.9,263.8 L336.4,263.9 L337.9,263.6 L339.5,263.6 L341.2,264.4 L343.3,263.1 M336.1,266.0 L337.5,265.1 M334.6,265.1 L336.1,266.0 L336.9,267.4 L338.5,268.1 M334.4,266.4 L336.2,265.0 L338.4,264.4 M334.1,267.7 L334.7,269.2 L335.7,270.6 M335.3,269.8 L337.1,267.7 M337.0,269.7 L338.3,271.1 M333.7,270.2 L335.3,269.8 L337.0,269.7 L338.6,270.1 M337.2,272.4 L338.9,274.9 M339.1,272.9 L340.5,270.8 M333.5,271.5 L335.3,272.3 L337.2,272.4 L339.1,272.9 L341.1,272.6 M335.2,273.4 L335.8,275.4 M337.1,273.2 L338.6,270.5 M333.3,272.8 L335.2,273.4 L337.1,273.2 L339.0,273.1 L340.9,272.6 M333.2,274.1 L335.1,273.3 L336.9,272.2 M334.7,275.7 L335.4,276.9 M333.0,275.4 L334.6,275.7 L336.3,276.0 L337.8,275.4 L338.8,273.8 L340.9,273.1 M334.6,279.8 L333.5,281.9 M332.9,276.7 L333.3,278.5 L334.6,279.8 L336.4,280.3 M334.5,278.6 L336.8,277.1 M332.7,278.0 L334.5,278.6 L335.7,280.1 L336.6,281.8 M332.6,279.3 L333.9,279.7 L335.1,280.3 M334.2,280.5 L335.3,279.2 M335.9,280.7 L336.2,282.6 M332.4,280.6 L334.2,280.5 L335.9,280.7 L337.6,280.6 L339.2,279.9 M380.1,226.6 L380.9,228.0 L382.6,228.5 L383.8,229.6 L384.7,231.0 L385.8,232.5 L387.5,232.6 L389.0,231.6 L390.5,231.2 L392.0,230.7 L393.1,229.5 L394.7,228.8 L395.1,227.1 L396.4,225.8 M334.3,266.6 L335.8,267.3 L337.1,268.3 L338.1,269.5 L339.6,270.0 L341.0,271.0 L342.7,270.9 L344.3,271.0 L345.8,271.7 L347.4,272.0 L348.8,270.6 L350.4,270.4 L351.9,270.0 L353.2,269.0 L354.4,268.0 L356.0,267.5 L357.2,266.5 L358.0,265.0 M348.2,271.5 L349.8,274.8 M352.3,269.9 L354.7,272.3 M356.4,242.9 L358.8,246.2 L357.2,249.5 L360.5,251.9 L358.0,254.4 M336.7,260.1 L335.1,260.7 L336.5,261.8 L336.5,263.6 L334.4,264.0 L334.2,265.8 L333.2,267.0 L333.0,268.5 L334.6,268.7 L335.6,269.7 L336.0,271.1 L334.5,271.8 L334.9,273.3 L333.6,273.8 L332.9,274.8 L334.0,274.9 L335.0,276.5 L333.7,277.6 L333.8,278.9 L333.4,279.6 L332.3,280.4 L331.3,281.6 L331.4,283.3 L332.6,284.4 L333.5,285.4 L334.3,286.5 L332.7,287.1 L332.0,288.7 L332.3,290.3 L331.8,292.1 L332.7,292.9 L331.9,294.0 L329.7,293.7 L331.4,295.2 L330.7,296.8 L330.6,298.5 L332.2,299.1 L330.8,299.4 L328.9,299.7 L329.6,301.3 L330.8,302.4 L332.1,302.5 L332.1,303.8 L332.4,305.1 L330.3,305.1 L331.6,307.4 M338.5,261.0 L338.6,264.1 M336.6,260.0 L338.5,261.0 L340.6,261.1 M336.5,266.7 L338.1,267.2 M337.9,267.7 L338.1,270.3 M335.1,263.6 L335.5,265.3 L336.5,266.7 L337.9,267.7 L339.5,268.2 M334.7,264.9 L335.8,265.4 L336.5,266.4 M336.3,264.9 L335.9,262.9 M334.4,266.1 L336.3,264.9 L338.6,264.9 M335.9,269.7 L337.4,268.6 M334.0,268.6 L335.9,269.7 L338.1,269.7 M336.6,271.6 L337.4,270.2 M335.4,271.8 L336.6,271.6 L337.9,271.7 M334.5,272.8 L336.5,272.4 L338.5,272.6 M334.2,275.7 L335.7,276.6 M333.6,273.8 L334.2,275.7 L334.1,277.7 M332.8,274.8 L334.1,274.8 L335.3,274.7 M334.8,276.3 L335.8,274.9 M333.2,276.0 L334.8,276.3 L336.4,276.0 L337.9,276.6 M334.8,276.0 L337.6,276.0 M333.6,277.2 L334.8,276.0 L335.6,274.6 L336.5,273.2 M334.2,283.0 L335.5,283.0 M333.1,280.8 L334.2,283.0 L335.5,285.0 M334.6,283.1 L334.0,285.8 M332.6,282.0 L334.6,283.1 L336.3,284.7 M332.3,283.2 L333.0,284.0 L334.0,284.3 M333.0,284.3 L334.8,284.5 L336.4,285.2 M333.9,286.5 L335.5,286.7 L336.9,287.5 L337.9,288.8 L338.8,290.2 M332.3,288.6 L332.8,289.7 L332.9,290.9 M334.1,289.6 L334.2,287.9 M332.4,290.8 L334.1,289.6 L336.0,288.9 L338.0,288.5 M334.7,291.8 L335.9,293.7 M332.9,291.9 L334.7,291.8 L336.3,292.5 M332.9,293.0 L333.2,295.0 L333.8,297.0 M331.9,293.7 L331.6,296.0 L330.2,297.7 M330.8,294.5 L332.5,294.4 L334.2,294.3 M330.1,295.4 L331.0,293.5 L330.8,291.4 M330.9,301.5 L332.0,300.5 M330.0,300.9 L330.9,301.5 L331.9,301.6 M330.5,301.2 L330.4,298.8 M329.4,301.8 L330.5,301.2 L331.1,300.2 M332.2,301.9 L334.4,299.3 M333.9,302.0 L336.2,304.3 M330.6,302.3 L332.2,301.9 L333.9,302.0 L335.4,301.1 L336.9,300.5 M331.8,302.8 L333.5,302.2 L335.3,302.2 M332.7,303.5 L333.5,301.6 L335.1,300.5 M332.0,304.5 L333.7,303.1 L335.0,301.2 M331.2,305.6 L333.3,305.2 L335.3,305.8 M330.3,307.4 L330.1,309.0 L330.5,310.6 L329.7,311.9 L330.3,313.3 L331.1,314.5 L332.9,315.2 L332.2,317.0 L333.2,318.2 L335.0,318.4 L335.1,320.2 L336.1,321.6 L337.6,322.1 L339.0,322.9 L340.2,323.7 L341.5,324.7 L343.0,325.2 L344.2,325.9 L345.6,326.2 L347.1,326.2 L348.7,326.7 L350.0,327.8 L351.5,327.1 L352.8,326.4 L354.3,326.6 L355.6,325.4 L356.8,324.4 L358.7,324.4 L359.1,322.7 L359.1,320.8 L360.8,320.2 L362.3,319.7 L362.7,318.2 L363.9,317.2 L365.5,316.7 L367.0,316.4 L368.2,315.5 L369.7,314.7 L369.9,312.9 L371.0,311.8 L372.2,310.9 L373.5,310.1 L374.1,308.6 L375.4,307.5 L375.5,305.9 L376.8,304.9 L378.0,303.9 L378.5,302.5 L378.6,300.9 L378.6,298.3 M330.0,308.7 L330.7,308.3 L331.4,308.1 M330.0,310.0 L330.8,309.5 L331.2,308.6 M330.9,313.7 L330.5,312.0 L330.1,310.2 M332.1,316.0 L332.2,314.8 L331.9,313.5 M332.9,317.1 L333.9,315.7 L335.0,314.2 M333.7,318.1 L335.5,318.7 L337.4,319.1 M337.7,320.4 L338.9,320.8 M336.4,320.8 L337.7,320.4 L339.1,320.3 M338.4,322.4 L338.1,321.5 L337.7,320.5 M342.6,325.5 L343.8,324.3 L344.9,323.1 M345.1,326.3 L346.6,326.3 L348.0,325.8 M346.3,325.8 L348.9,324.9 M346.3,326.7 L346.3,325.8 L346.1,324.9 M347.6,327.0 L347.7,325.6 L348.1,324.3 M350.2,326.8 L350.4,325.0 L351.2,323.3 M351.2,326.0 L348.0,324.9 M351.5,326.7 L351.2,326.0 L351.0,325.2 M352.8,326.7 L352.3,325.0 L352.4,323.4 M361.0,320.5 L360.3,318.8 L358.9,317.5 M367.2,315.8 L365.7,315.1 L364.1,314.8 M369.1,314.1 L368.9,312.5 L368.5,310.9 M369.4,312.4 L369.5,310.7 M370.0,313.2 L369.4,312.4 L369.4,311.4 M372.0,311.5 L370.9,310.7 L369.8,309.8 M373.1,310.8 L372.1,309.9 L371.0,309.2 M374.9,307.4 L374.1,307.1 L373.3,307.2 M375.1,305.6 L375.1,302.6 M375.7,306.4 L375.1,305.6 L374.4,305.0 M377.8,303.1 L376.7,303.2 L375.5,303.1 M404.5,196.6 L403.0,197.1 L401.8,197.8 L401.7,199.3 L401.4,200.7 M398.2,203.2 L398.0,204.7 L396.8,205.3 L396.9,207.2 L396.1,208.2 M393.3,211.0 L391.3,210.8 L390.4,211.7 L390.0,213.2 L388.9,214.0 M386.8,217.3 L385.5,217.9 L384.9,219.2 L383.9,220.0 L381.9,219.8 M379.5,222.9 L378.6,223.9 L378.5,225.7 L376.8,225.7 L376.4,227.3 M372.6,228.7 L371.9,230.0 L370.3,230.1 L370.0,231.7 L368.7,232.2 M366.3,235.4 L364.9,235.7 L364.0,236.8 L362.9,237.5 L361.5,237.7 M357.9,239.2 L356.9,240.0 L355.9,240.8 L354.7,241.4 L353.7,242.3 M350.3,244.2 L349.0,244.7 L347.3,243.9 L346.9,246.1 L345.5,246.2 M341.9,247.7 L340.7,248.2 L339.5,248.8 L338.6,249.6 L337.7,250.5 M335.4,253.5 L336.0,255.0 L334.8,256.0 L334.8,257.4 L333.3,258.2 M333.2,262.3 L333.4,263.6 L333.0,264.9 L332.8,266.2 L332.0,267.3 M331.1,271.1 L331.7,272.5 L331.8,273.8 L330.2,275.0 L331.6,276.4 M347.8,364.4 L347.5,362.8 L347.6,361.2 L347.8,359.6 L348.1,358.0 L348.3,356.4 L349.9,355.2 L350.5,353.8 L351.3,352.5 L351.4,350.6 L353.2,350.1 L354.3,349.0 L355.7,348.4 L356.7,346.8 L358.6,347.0 L360.0,346.4 L361.4,345.5 L362.9,344.9 L364.7,345.3 L365.9,343.9 L367.3,343.2 L368.7,342.4 L370.1,341.6 L371.3,340.5 L372.8,339.8 L374.6,339.5 L373.8,341.4 L373.2,342.9 L373.6,344.6 L372.5,345.9 L372.9,347.6 L372.9,349.2 L373.6,350.8 L373.4,352.4 L372.7,353.9 L372.0,355.4 L371.0,356.7 L371.3,357.9 L372.5,358.7 L373.5,360.1 L375.3,360.5 L375.8,362.0 L375.3,363.5 L374.4,364.7 L373.6,366.2 L372.0,366.6 L371.2,368.0 L370.5,369.4 L369.4,370.5 L368.8,372.1 L368.1,373.5 L366.9,374.6 L366.6,376.3 L366.2,377.8 L364.4,378.8 L364.0,380.4 L364.2,382.7 M349.8,354.0 L351.3,353.4 L352.9,353.4 L354.3,353.0 L355.9,353.5 L357.5,353.1 L358.5,351.6 L360.1,351.2 L361.6,350.4 L363.4,351.0 L364.8,350.1 L366.2,349.2 L367.6,348.4 L369.2,348.3 L370.8,348.3 L372.7,347.5 M375.3,372.3 L376.7,371.6 L378.0,370.6 L379.4,369.5 L381.1,369.7 L382.8,369.3 L384.3,370.2 L385.4,371.5 L386.7,370.9 L387.8,369.6 L389.4,369.2 L391.1,369.3 L391.7,370.2 L392.9,371.4 L392.4,372.9 L391.9,374.4 L391.4,375.9 L391.1,377.5 L390.3,378.9 L389.5,380.4 L387.9,381.1 L386.5,381.9 L385.8,383.5 L384.1,383.8 L383.0,384.3 L381.3,383.7 L380.9,381.9 L380.3,380.4 L379.4,379.0 L378.2,377.9 L376.3,377.6 L375.8,376.0 L374.6,374.7 L375.3,372.3 M383.1,323.9 L384.3,325.1 L384.0,327.1 L384.9,328.3 L385.3,329.9 L385.7,331.4 L385.7,333.1 L386.4,334.5 L386.9,336.1 L387.5,337.6 L388.0,339.1 L389.0,340.5 L388.2,342.3 L388.6,343.9 L390.0,345.2 L389.6,346.9 L390.3,348.4 L390.5,350.0 L391.8,351.2 L392.5,352.7 L392.6,354.4 L392.7,356.1 L393.8,357.3 L394.7,358.7 L394.7,360.3 L394.5,361.8 L393.8,363.1 L392.4,364.2 L392.4,366.0 L393.0,367.5 L393.1,369.1 L393.9,370.5 L394.2,372.1 L395.7,373.1 L396.0,374.8 L396.7,376.2 L397.9,377.5 L397.5,379.2 L397.5,381.0 L399.1,381.7 L400.5,382.4 L401.6,384.0 L403.3,383.3 L404.7,382.3 L406.4,382.4 L409.3,381.4 M229.6,293.4 L230.7,290.7 M227.9,294.3 L229.6,293.4 L231.5,292.8 M228.2,296.3 L228.2,298.0 M227.2,295.3 L228.2,296.3 L229.4,297.2 M227.7,295.9 L227.1,292.9 M226.7,297.6 L227.7,295.9 L229.5,295.1 M227.2,298.7 L229.0,299.3 L230.9,299.3 M223.6,301.8 L224.3,303.5 L224.0,305.4 M226.1,303.4 L229.0,302.9 M224.4,302.6 L226.1,303.4 L227.8,304.0 M224.9,304.6 L227.0,305.3 M224.8,303.3 L224.9,304.6 L224.5,305.8 M223.6,303.8 L225.1,303.3 L226.8,303.1 L228.4,302.9 M223.0,305.7 L226.0,306.2 M222.4,304.4 L223.0,305.7 L223.4,307.0 M223.0,306.7 L224.9,306.5 M221.9,305.6 L223.0,306.7 L224.5,307.3 M222.2,306.4 L224.1,308.0 M221.4,306.8 L222.2,306.4 L223.0,306.2 M221.1,309.1 L221.6,310.3 L222.0,311.5 M219.7,311.3 L221.4,310.1 L222.6,308.3 M220.0,312.2 L222.3,311.9 L224.4,311.1 M221.0,312.9 L223.2,312.9 L225.4,313.5 M218.6,314.0 L219.8,314.3 L220.9,314.2 M216.4,316.9 L216.8,318.4 L217.9,319.5 M212.2,319.8 L212.8,320.9 L212.8,322.2 M211.6,321.0 L212.2,322.7 L212.3,324.6 M212.3,322.2 L213.3,323.5 M211.0,322.2 L212.3,322.2 L213.4,322.8 M213.3,322.2 L213.8,321.1 L213.9,320.0 M220.9,321.4 L222.4,319.8 L223.9,318.2 M223.4,321.5 L226.0,323.8 M222.2,321.5 L223.4,321.5 L224.7,321.4 M223.2,323.2 L225.6,324.7 M221.4,323.3 L223.2,323.2 L225.0,323.0 M216.7,325.4 L216.7,326.9 L217.4,328.2 M216.8,329.2 L217.1,331.4 M215.2,328.9 L216.8,329.2 L218.3,328.8 L219.9,329.1 M214.1,329.5 L215.5,331.3 L217.0,332.9 M214.6,332.5 L214.1,333.8 M213.4,330.6 L214.6,332.5 L215.6,334.7 M213.0,331.8 L214.7,330.5 L216.8,330.1 M214.8,333.0 L215.9,333.5 L217.0,334.0 M212.4,336.1 L212.7,337.1 L212.5,338.1 M211.6,338.2 L213.0,337.6 L214.3,336.7 M213.7,338.1 L216.6,338.2 M212.5,339.2 L213.7,338.1 L215.2,337.5 M213.4,340.1 L214.4,338.2 L214.9,336.1 M181.8,391.3 L182.6,393.6 M180.7,391.4 L181.8,391.3 L182.9,391.2 M179.4,391.0 L179.2,390.2 L179.3,389.4 M178.5,389.5 L181.9,389.5 M178.2,390.6 L178.5,389.5 L178.2,388.5 M169.6,390.5 L170.0,389.4 L170.7,388.4 M167.0,390.9 L166.8,390.5 L166.7,390.0 M161.9,390.8 L161.1,390.2 L160.2,389.8 M155.9,392.4 L156.8,391.4 L157.9,390.7 M149.6,391.8 L150.1,390.8 L150.3,389.7 M147.8,391.9 L149.0,393.8 M147.0,392.1 L147.8,391.9 L148.6,392.1 M141.7,388.3 L142.0,387.6 L142.3,387.0 M140.3,386.6 L141.6,386.4 L142.5,385.5 M139.9,381.1 L140.0,380.4 L140.3,379.8 M141.6,378.9 L140.6,380.8 M141.4,377.6 L141.6,378.9 L141.5,380.3 M142.7,377.6 L143.6,378.5 L144.9,378.9 M145.5,377.8 L148.1,377.9 M145.1,378.2 L145.5,377.8 L146.0,377.6 M146.3,375.0 L148.8,372.7 M145.6,374.7 L146.3,375.0 L147.1,375.0 M150.3,372.7 L150.5,373.5 L151.0,374.3 M155.2,372.4 L154.9,373.8 L154.0,374.8 M158.5,372.8 L158.5,372.1 L158.6,371.3 M157.8,371.6 L158.0,371.1 L158.5,370.7 M154.5,367.7 L155.4,367.7 L156.2,367.6 M154.3,366.1 L154.7,367.6 M153.6,365.6 L154.3,366.1 L154.9,366.6 M155.5,363.8 L156.4,363.0 L157.1,362.0 M156.1,361.9 L159.4,362.8 M155.2,362.7 L156.1,361.9 L157.1,361.3 M153.9,360.5 L154.4,360.3 L154.8,360.0 M153.4,359.3 L153.9,358.4 L154.6,357.7 M156.1,354.2 L156.6,354.4 L157.2,354.6 M157.1,348.5 L157.9,348.9 L158.7,348.7 M159.8,344.1 L160.1,346.3 M159.3,343.8 L159.8,344.1 L160.2,344.6 M160.5,343.6 L161.2,344.5 L162.0,345.2 M161.8,343.3 L161.9,344.0 L162.3,344.5 M165.7,345.2 L169.0,345.7 M165.4,344.2 L165.7,345.2 L165.9,346.2 M169.0,345.6 L167.7,345.8 L166.4,345.7 M171.5,346.2 L171.8,347.0 L172.4,347.6 M176.9,340.7 L177.3,341.7 L177.9,342.6 M178.4,340.2 L179.9,340.2 M177.8,339.8 L178.4,340.2 L179.0,340.6 M179.1,340.3 L177.3,342.9 M178.8,338.9 L179.1,340.3 L179.7,341.6 M179.7,337.9 L180.5,338.2 L181.4,338.2 M317.5,514.3 L314.5,514.9 L310.6,516.3 L307.6,519.2 L305.7,522.0 M396.9,503.1 L400.8,504.5 L405.7,503.5 L410.0,501.6 L415.5,499.6 M360.6,381.6 L364.5,379.6 L366.5,382.5 L363.5,385.5Z M374.3,380.6 L375.7,383.5 L375.3,389.4 L373.7,386.5Z M386.1,389.4 L390.0,387.5 L392.0,391.4 L389.0,396.3 L386.7,393.7Z M395.3,395.3 L396.8,394.7 L398.2,394.4 L399.2,394.8 L400.7,395.6 L401.5,397.0 L400.6,398.6 L400.4,400.4 L398.6,400.9 L397.2,401.3 L396.4,401.1 L395.6,399.9 L395.6,398.4 L395.7,397.0 L395.3,395.3 M372.4,396.3 L375.3,395.3 L376.3,397.6 L373.3,398.4Z M367.5,389.4 L369.4,388.4 L370.4,391.4 L368.4,392.4Z M380.2,371.8 L382.2,370.2 L383.5,372.7 L381.6,374.1Z M358.6,389.4 L357.4,388.0 L355.9,386.8 M357.2,389.2 L355.3,389.8 M358.0,390.6 L357.2,389.2 L356.0,388.2 M357.4,393.8 L356.5,394.4 L355.6,395.1 M360.2,396.9 L361.8,397.2 M359.6,395.1 L360.2,396.9 L359.9,398.7 M360.7,395.8 L359.8,397.1 L359.1,398.5 M361.8,396.5 L360.7,397.7 L359.1,398.2 M363.9,398.0 L363.1,397.9 L362.3,398.1 M364.9,398.8 L363.5,399.3 L361.9,399.2 M369.2,403.0 L367.9,404.5 L367.1,406.3 M366.9,404.8 L365.2,405.4 M368.6,405.5 L366.9,404.8 L365.1,404.2 M369.2,406.3 L368.7,407.7 L367.9,409.0 M372.4,408.5 L371.8,411.0 M371.7,406.9 L372.4,408.5 L372.1,410.2 M372.4,407.6 L370.4,408.3 M372.9,406.7 L372.4,407.6 L371.6,408.1 M376.2,404.7 L376.2,405.6 L376.3,406.5 M377.3,404.1 L378.1,405.2 L379.1,406.1 M378.5,403.6 L378.1,404.7 L377.6,405.8 M381.3,404.5 L383.6,404.9 M381.0,402.6 L381.3,404.5 L382.4,406.1 M383.4,402.4 L383.9,403.4 L384.6,404.3 M388.5,402.8 L390.0,403.7 L391.1,404.9 M391.1,402.3 L391.7,403.0 L391.8,403.9 M394.0,404.5 L394.8,405.6 M394.7,403.5 L394.0,404.5 L394.0,405.7 M395.8,404.1 L396.2,404.7 L396.4,405.5 M395.9,405.5 L396.8,408.5 M397.1,404.4 L395.9,405.5 L394.4,406.1 M398.4,404.6 L397.4,405.9 L397.0,407.4 M402.2,404.8 L403.3,406.2 L404.8,407.3 M403.5,404.6 L404.0,405.9 L404.1,407.4 M404.7,404.3 L404.4,406.0 L404.7,407.7 M360.3,382.5 L358.9,381.7 L357.5,381.2 M361.3,381.7 L360.5,380.7 L359.6,379.7 M363.4,380.1 L363.3,379.0 L363.0,377.9 M364.6,380.3 L364.9,379.5 L365.2,378.7 M368.0,381.6 L368.9,380.7 L369.2,379.5 M368.7,385.1 L370.3,385.0 L372.0,384.9 M368.0,386.2 L368.2,387.9 L367.5,389.5 M365.9,389.8 L362.7,390.3 M366.6,388.2 L365.9,389.8 L364.6,390.8 M362.7,389.0 L361.9,389.8 L361.2,390.7 M360.8,387.3 L359.7,388.3 L358.3,388.6 M358.4,386.0 L357.9,383.5 M359.9,386.4 L358.4,386.0 L356.9,385.5 M358.7,384.7 L357.2,382.4 M360.1,385.1 L358.7,384.7 L357.8,383.7 M376.1,370.0 L378.9,368.1 M376.4,371.6 L376.1,370.0 L375.6,368.3 M378.6,370.3 L378.5,369.5 L378.3,368.8 M379.9,370.1 L379.0,369.6 L378.0,369.3 M382.5,369.7 L382.7,368.8 L383.0,367.9 M385.8,371.6 L385.3,370.5 L384.4,369.9 M389.1,369.6 L388.9,368.8 L388.9,368.0 M390.4,369.3 L391.0,368.7 L391.6,368.3 M392.1,370.3 L393.3,369.5 L393.8,368.2 M392.6,371.5 L394.0,370.6 L395.6,370.3 M393.2,372.0 L392.8,370.4 M392.8,372.7 L393.2,372.0 L393.4,371.2 M387.4,381.3 L389.0,381.4 L390.5,380.8 M386.4,382.1 L386.6,382.9 L386.6,383.7 M385.5,383.0 L386.4,384.3 L387.4,385.5 M383.6,384.6 L383.1,385.0 L382.9,385.7 M377.8,379.0 L376.7,381.7 M378.5,378.9 L377.8,379.0 L377.1,379.2 M375.9,377.3 L373.1,378.2 M377.4,378.1 L375.9,377.3 L374.2,377.0 M375.8,376.2 L375.0,376.4 L374.4,376.8 M375.1,375.1 L374.0,375.5 L372.8,375.7 M372.9,393.5 L372.9,391.8 L373.6,390.3 M376.6,392.3 L375.6,391.2 L374.3,390.6 M378.7,392.2 L381.7,392.7 M377.9,392.7 L378.7,392.2 L379.6,391.8 M380.3,393.5 L380.9,393.1 L381.4,392.8 M381.5,394.0 L382.8,393.5 L384.3,393.7 M380.4,394.7 L381.1,395.5 L382.0,396.2 M379.4,395.5 L380.2,396.3 L381.3,396.7 M378.3,396.3 L378.0,397.2 L377.7,398.1 M377.5,397.9 L379.0,398.3 M377.1,396.4 L377.5,397.9 L378.6,399.1 M373.2,396.2 L372.5,396.8 L371.9,397.4 M374.1,340.9 L375.8,340.6 L377.4,340.1 M373.8,343.5 L375.4,344.1 L377.0,344.8 M373.5,344.7 L375.1,344.0 L376.9,344.0 M373.1,346.0 L374.0,345.8 L374.7,345.3 M373.5,348.0 L375.9,347.5 M372.8,347.2 L373.5,348.0 L373.9,349.1 M373.3,351.1 L374.6,352.0 L376.1,352.4 M372.5,353.5 L373.2,354.3 L373.6,355.4 M373.0,356.7 L373.4,358.8 M371.5,355.9 L373.0,356.7 L374.6,356.8 M372.2,358.8 L373.1,358.0 L374.1,357.3 M373.3,359.5 L374.7,358.9 L376.3,358.9 M374.2,359.6 L372.8,359.1 M374.4,360.2 L374.2,359.6 L373.8,359.0 M372.9,366.2 L373.3,366.6 L373.8,366.9 M370.3,368.9 L371.3,368.3 L372.5,368.3 M370.1,371.4 L371.9,369.9 M369.1,371.2 L370.1,371.4 L371.0,371.0 M369.6,372.6 L370.4,371.4 M368.6,372.4 L369.6,372.6 L370.6,372.9 M367.8,376.4 L368.5,379.7 M366.5,375.7 L367.8,376.4 L369.0,377.4 M365.4,378.0 L366.1,378.8 L366.5,379.7 M364.9,379.2 L365.6,378.8 L366.3,378.7 M364.4,381.7 L365.3,381.1 L366.2,380.6 M442.9,290.3 L443.9,289.4 L444.6,288.3 M445.4,293.3 L446.9,292.2 L447.9,290.5 M450.4,297.3 L451.6,298.6 M448.6,297.4 L450.4,297.3 L452.1,296.5 M453.4,303.5 L454.0,301.6 L454.1,299.6 M454.2,304.6 L454.4,303.5 L454.4,302.4 M454.1,309.0 L454.0,311.2 L452.8,313.0 M453.4,312.1 L453.1,313.8 M452.8,311.2 L453.4,312.1 L453.6,313.2 M451.8,312.0 L453.0,311.9 L454.0,311.3 M450.7,312.8 L451.4,313.3 L452.3,313.6 M448.6,314.3 L448.3,315.8 L447.5,317.2 M447.6,315.1 L448.3,315.8 L449.2,316.2 M446.6,315.9 L447.3,316.3 L447.8,317.0 M444.5,317.4 L445.3,318.4 L446.0,319.4 M443.3,318.0 L443.3,319.9 L443.6,321.9 M442.8,319.7 L442.3,321.8 M442.1,318.3 L442.8,319.7 L443.5,321.2 M439.2,320.4 L440.1,322.4 L440.6,324.6 M438.6,323.4 L441.2,323.3 M438.1,322.8 L438.6,323.4 L439.1,324.0 M437.0,325.1 L437.7,325.1 L438.5,325.2 M436.2,328.2 L438.3,329.6 M435.5,328.8 L436.2,328.2 L437.0,327.9 M476.0,281.2 L474.5,280.9 L473.1,281.2 M476.4,282.5 L475.5,282.8 L474.7,283.3 M476.8,283.7 L475.9,283.9 L475.1,283.6 M477.2,284.9 L476.0,286.7 L474.3,288.1 M476.6,287.3 L477.3,289.5 M477.7,286.1 L476.6,287.3 L475.5,288.5 M478.8,288.5 L478.5,289.4 L478.3,290.4 M481.9,290.5 L481.4,292.3 L480.5,293.9 M488.5,293.0 L487.3,293.2 L486.1,293.7 M489.5,293.9 L487.2,294.2 L485.0,294.3 M489.5,294.8 L487.8,295.1 L486.5,296.2 M487.7,296.7 L486.6,296.7 L485.5,296.6 M490.6,300.5 L488.4,301.3 M491.0,298.7 L490.6,300.5 L490.5,302.3 M495.1,301.3 L493.3,302.2 M494.9,300.3 L495.1,301.3 L495.1,302.2 M495.9,299.6 L494.9,301.4 L493.4,302.9 M498.1,298.1 L498.8,298.6 L499.6,298.8 M500.3,296.8 L501.0,298.8 L501.0,300.9 M475.3,219.0 L476.7,217.8 M474.7,218.7 L475.3,219.0 L475.7,219.4 M474.1,221.1 L476.3,219.6 M473.4,221.0 L474.1,221.1 L474.9,221.1 M472.7,222.1 L474.0,221.4 L475.4,221.5 M472.1,223.2 L472.5,224.2 L473.1,225.2 M466.7,230.5 L467.1,231.9 L466.7,233.3 M466.5,232.0 L467.0,233.9 M465.9,231.5 L466.5,232.0 L467.4,232.1 M463.9,233.1 L463.4,234.3 L462.8,235.5 M460.7,235.4 L460.7,236.6 L461.2,237.7 M450.8,243.6 L451.9,243.6 L453.1,243.6 M444.7,246.2 L445.5,246.6 L446.5,246.8 M443.7,252.7 L444.3,252.7 L444.8,252.9 M442.1,257.9 L441.3,259.9 M441.8,257.3 L442.1,257.9 L442.6,258.4 M441.6,258.6 L442.6,257.8 L443.7,257.1 M441.1,261.1 L441.9,261.2 L442.6,261.5 M440.8,262.4 L441.3,262.9 L441.9,263.2 M440.1,264.9 L441.3,265.0 L442.5,264.6 M440.0,266.2 L440.8,266.9 L441.6,267.8 M440.4,268.8 L441.2,266.4 M439.7,268.8 L440.4,268.8 L441.0,268.9 M439.6,270.1 L440.6,270.7 L441.7,271.2 M440.7,270.9 L441.3,269.2 M439.5,271.4 L440.7,270.9 L441.9,270.3 M439.3,274.0 L440.5,274.1 L441.6,274.2 M439.2,276.6 L439.5,275.1 L440.6,274.1 M439.4,277.8 L440.3,277.9 L441.3,277.6 M439.6,279.1 L440.7,280.1 L442.2,280.3 M439.5,288.1 L441.0,288.6 L442.5,288.7 M439.8,289.4 L441.0,288.6 L441.7,287.4 M441.3,292.9 L441.3,290.6 M440.5,293.2 L441.3,292.9 L442.1,292.7 M498.9,212.9 L498.9,212.4 L499.1,211.9 M494.4,220.6 L495.4,222.1 M495.1,219.7 L494.4,220.6 L493.6,221.5 M494.5,220.8 L493.1,221.2 L491.8,221.6 M493.3,223.1 L492.6,223.5 L492.1,224.0 M491.6,223.4 L489.3,224.3 M492.7,224.3 L491.6,223.4 L490.2,222.9 M489.3,227.3 L488.1,228.2 M490.7,227.6 L489.3,227.3 L487.9,227.8 M489.8,228.5 L489.5,227.7 L489.2,227.0 M488.9,229.5 L488.7,229.0 L488.8,228.5 M487.2,231.4 L486.5,231.0 L485.7,230.7 M485.7,231.1 L483.0,231.0 M486.3,232.4 L485.7,231.1 L485.1,229.8 M483.6,235.2 L483.5,234.3 L483.8,233.5 M474.6,245.9 L473.7,245.1 L472.5,244.7 M474.3,247.1 L473.4,248.1 L472.1,248.6 M473.4,247.6 L475.7,245.1 M473.9,248.4 L473.4,247.6 L472.6,247.1 M473.0,253.4 L471.6,253.0 L470.6,252.0 M473.8,255.9 L472.8,255.9 L471.9,256.4 M474.3,260.0 L474.4,261.3 M474.8,259.7 L474.3,260.0 L473.8,260.3 M474.2,261.3 L473.1,259.8 M475.1,261.0 L474.2,261.3 L473.4,261.5 M474.5,263.5 L473.7,262.1 M475.6,263.5 L474.5,263.5 L473.5,262.9 M476.3,267.3 L475.5,266.6 L474.8,265.7 M476.6,269.1 L477.7,270.9 M476.8,268.6 L476.6,269.1 L476.2,269.5 M477.3,269.8 L476.2,269.9 L475.2,270.3 M477.7,274.7 L477.1,274.5 L476.6,274.3 M476.4,275.5 L474.7,277.0 M477.3,275.9 L476.4,275.5 L475.8,274.7 M476.0,281.8 L474.8,281.5 M477.1,281.0 L476.0,281.8 L474.6,282.1 M477.3,282.3 L476.4,282.9 L475.3,283.3 M477.4,283.6 L476.8,284.7 L476.6,286.0" fill="none" stroke="#4682b4" stroke-width="0.9" stroke-linejoin="round"/>
</g>
<text x="89.9" y="245.7" font-size="10" fill="#4682b4" textLength="16.5" lengthAdjust="spacingAndGlyphs" font-family="Liberation Sans, sans-serif">-20</text>
<text x="131.8" y="268.7" font-size="10" fill="#4682b4" textLength="16.4" lengthAdjust="spacingAndGlyphs" font-family="Liberation Sans, sans-serif">-15</text>
<text x="176.2" y="289.6" font-size="10" fill="#4682b4" textLength="16.5" lengthAdjust="spacingAndGlyphs" font-family="Liberation Sans, sans-serif">-10</text>
<text x="227.2" y="307.6" font-size="10" fill="#4682b4" textLength="9.1" lengthAdjust="spacingAndGlyphs" font-family="Liberation Sans, sans-serif">-5</text>
<text x="275.7" y="321.4" font-size="10" fill="#4682b4" textLength="6.8" lengthAdjust="spacingAndGlyphs" font-family="Liberation Sans, sans-serif">0</text>
<text x="324.0" y="332.6" font-size="10" fill="#4682b4" textLength="6.0" lengthAdjust="spacingAndGlyphs" font-family="Liberation Sans, sans-serif">5</text>
<text x="366.6" y="339.2" font-size="10" fill="#4682b4" textLength="11.9" lengthAdjust="spacingAndGlyphs" font-family="Liberation Sans, sans-serif">10</text>
<text x="414.7" y="344.8" font-size="10" fill="#4682b4" textLength="11.8" lengthAdjust="spacingAndGlyphs" font-family="Liberation Sans, sans-serif">15</text>
<text x="463.7" y="344.8" font-size="10" fill="#4682b4" textLength="10.9" lengthAdjust="spacingAndGlyphs" font-family="Liberation Sans, sans-serif">20</text>
<text x="511.5" y="342.7" font-size="10" fill="#4682b4" textLength="12.3" lengthAdjust="spacingAndGlyphs" font-family="Liberation Sans, sans-serif">25</text>
<text x="361.8" y="205.5" font-size="10" fill="#4682b4" textLength="12.5" lengthAdjust="spacingAndGlyphs" font-family="Liberation Sans, sans-serif">65</text>
<text x="348.1" y="295.1" font-size="10" fill="#4682b4" textLength="12.1" lengthAdjust="spacingAndGlyphs" font-family="Liberation Sans, sans-serif">60</text>
<text x="333.6" y="384.1" font-size="10" fill="#4682b4" textLength="12.8" lengthAdjust="spacingAndGlyphs" font-family="Liberation Sans, sans-serif">55</text>
<text x="319.6" y="473.4" font-size="10" fill="#4682b4" textLength="12.6" lengthAdjust="spacingAndGlyphs" font-family="Liberation Sans, sans-serif">50</text>
<g clip-path="url(#mc)">
<path d="M317.3,319.4 C319.9,324.6 319.7,324.6 325.0,335.0 C330.3,345.4 328.5,339.9 333.2,350.6 C337.9,361.3 335.2,357.5 339.0,367.0 C342.8,376.5 339.5,368.6 344.7,379.2 C349.9,389.8 347.4,388.6 354.7,398.7 C362.0,408.8 357.4,405.1 366.6,409.4 C375.8,413.7 372.0,411.5 382.2,411.5 C392.4,411.5 384.9,411.8 397.2,409.5 C409.5,407.2 406.3,407.2 419.2,404.6 C432.1,402.0 425.0,403.1 436.0,401.7 C447.0,400.3 446.8,400.8 452.2,400.3" fill="none" stroke="#ff0000" stroke-width="1.6" stroke-linecap="round" stroke-linejoin="round"/>
<polygon points="313.25,321.70 321.35,321.70 317.30,314.80" fill="#ff0000"/>
<polygon points="330.50,353.95 335.90,353.95 333.20,349.65" fill="#ff0000"/>
<polygon points="342.00,382.55 347.40,382.55 344.70,378.25" fill="#ff0000"/>
<polygon points="352.00,402.05 357.40,402.05 354.70,397.75" fill="#ff0000"/>
<polygon points="362.55,411.70 370.65,411.70 366.60,404.80" fill="#ff0000"/>
<polygon points="379.50,414.85 384.90,414.85 382.20,410.55" fill="#ff0000"/>
<polygon points="394.50,412.85 399.90,412.85 397.20,408.55" fill="#ff0000"/>
<polygon points="416.50,407.95 421.90,407.95 419.20,403.65" fill="#ff0000"/>
<path d="M177.2,352.2 C180.8,350.6 180.4,350.5 188.0,347.5 C195.6,344.5 192.7,345.5 200.0,343.2 C207.3,340.9 203.3,341.9 209.8,340.7 C216.3,339.5 212.9,340.1 219.4,339.7 C225.9,339.3 222.8,339.5 229.4,339.6 C236.0,339.7 232.7,339.5 239.2,340.0 C245.7,340.5 242.8,340.3 249.0,341.0 C255.2,341.7 249.0,341.8 257.8,342.0 C266.6,342.2 264.0,341.4 275.4,341.6 C286.8,341.8 282.1,341.5 292.0,342.7 C301.9,343.9 294.2,343.0 305.0,345.3 C315.8,347.6 312.6,347.5 324.3,349.5 C336.0,351.5 328.7,348.6 340.0,351.4 C351.3,354.2 347.4,353.6 358.3,357.9 C369.2,362.2 363.1,360.0 372.7,364.4 C382.3,368.8 378.4,366.7 387.1,371.0 C395.8,375.3 390.8,373.4 398.8,377.2 C406.8,381.0 405.1,379.9 411.2,382.5 C417.3,385.1 408.9,381.3 417.2,385.0 C425.5,388.7 424.3,388.4 436.0,393.5 C447.7,398.6 446.8,398.0 452.2,400.3" fill="none" stroke="#0000ff" stroke-width="1.6" stroke-linecap="round" stroke-linejoin="round"/>
<rect x="173.70" y="348.70" width="7.0" height="7.0" fill="#0000ff"/>
<rect x="217.05" y="339.15" width="4.7" height="4.7" fill="#0000ff"/>
<rect x="255.45" y="342.15" width="4.7" height="4.7" fill="#0000ff"/>
<rect x="289.65" y="342.85" width="4.7" height="4.7" fill="#0000ff"/>
<rect x="320.80" y="346.00" width="7.0" height="7.0" fill="#0000ff"/>
<rect x="356.05" y="356.85" width="4.7" height="4.7" fill="#0000ff"/>
<rect x="384.95" y="370.15" width="4.7" height="4.7" fill="#0000ff"/>
<rect x="414.85" y="383.75" width="4.7" height="4.7" fill="#0000ff"/>
<path d="M150.9,386.1 C156.6,382.2 155.6,382.1 168.0,374.5 C180.4,366.9 174.7,369.7 188.0,363.4 C201.3,357.1 194.4,360.8 208.0,355.5 C221.6,350.2 214.7,351.4 228.7,347.4 C242.7,343.4 234.4,345.6 250.0,343.5 C265.6,341.4 254.9,341.3 275.4,341.2 C295.9,341.1 295.0,342.4 311.5,343.3 C328.0,344.2 315.5,343.2 325.0,344.0 C334.5,344.8 330.9,344.1 340.0,345.6 C349.1,347.1 343.7,345.7 352.4,348.6 C361.1,351.5 354.5,349.3 366.1,354.3 C377.7,359.3 374.0,357.6 387.1,363.6 C400.2,369.6 394.4,367.0 405.4,372.3 C416.4,377.6 409.7,373.7 420.2,379.6 C430.7,385.5 426.3,383.1 437.0,390.0 C447.7,396.9 447.1,396.9 452.2,400.3" fill="none" stroke="#00ff00" stroke-width="1.6" stroke-linecap="round" stroke-linejoin="round"/>
<circle cx="150.9" cy="386.1" r="3.7" fill="#00ff00"/>
<circle cx="188" cy="364.3" r="2.5" fill="#00ff00"/>
<circle cx="228.7" cy="348.3" r="2.5" fill="#00ff00"/>
<circle cx="275.4" cy="342.1" r="2.5" fill="#00ff00"/>
<circle cx="311.5" cy="343.3" r="3.7" fill="#00ff00"/>
<circle cx="352.4" cy="349.5" r="2.5" fill="#00ff00"/>
<circle cx="387.1" cy="364.4" r="2.5" fill="#00ff00"/>
<circle cx="420.2" cy="380.2" r="2.5" fill="#00ff00"/>
<text x="446.66" y="404.73" font-size="12.30" fill="#000" stroke="#000" stroke-width="0.7" stroke-linejoin="miter" font-family="DejaVu Sans, sans-serif" text-rendering="geometricPrecision">★</text>
<path d="M353.8,333.0 C356.9,340.0 357.3,340.9 363.0,354.0 C368.7,367.1 366.3,360.0 371.0,372.3 C375.7,384.6 373.1,379.8 377.0,391.0 C380.9,402.2 377.3,394.9 382.8,405.8 C388.3,416.7 387.8,413.6 393.6,423.7 C399.4,433.8 393.3,430.9 400.1,436.0 C406.9,441.1 403.4,437.4 413.9,438.9 C424.4,440.4 417.8,440.1 431.5,440.6 C445.2,441.1 439.3,440.4 455.0,440.4 C470.7,440.4 470.7,440.5 478.5,440.5" fill="none" stroke="#ff0000" stroke-width="1.6" stroke-linecap="round" stroke-linejoin="round"/>
<polygon points="349.75,335.30 357.85,335.30 353.80,328.40" fill="#ff0000"/>
<polygon points="368.30,375.65 373.70,375.65 371.00,371.35" fill="#ff0000"/>
<polygon points="380.10,409.15 385.50,409.15 382.80,404.85" fill="#ff0000"/>
<polygon points="390.90,427.05 396.30,427.05 393.60,422.75" fill="#ff0000"/>
<polygon points="396.05,438.30 404.15,438.30 400.10,431.40" fill="#ff0000"/>
<polygon points="411.20,442.25 416.60,442.25 413.90,437.95" fill="#ff0000"/>
<polygon points="428.80,443.95 434.20,443.95 431.50,439.65" fill="#ff0000"/>
<polygon points="452.30,443.75 457.70,443.75 455.00,439.45" fill="#ff0000"/>
<path d="M370.3,236.5 C372.3,240.2 372.6,240.2 376.4,247.5 C380.2,254.8 378.6,251.1 381.8,258.3 C385.0,265.5 383.4,261.9 386.1,269.0 C388.8,276.1 387.8,272.5 389.9,279.7 C392.0,286.9 391.0,283.7 392.5,290.5 C394.0,297.3 392.0,288.3 394.5,300.1 C397.0,311.9 397.0,310.9 400.0,326.0 C403.0,341.1 399.7,327.3 403.5,345.3 C407.3,363.3 407.8,362.5 411.3,380.1 C414.8,397.7 412.3,387.5 414.0,398.0 C415.7,408.5 413.8,402.3 416.5,411.5 C419.2,420.7 418.7,417.8 422.2,425.5 C425.7,433.2 422.9,430.7 427.0,434.5 C431.1,438.3 426.1,435.1 434.5,436.9 C442.9,438.7 437.5,438.7 452.2,439.9 C466.9,441.1 469.7,440.3 478.5,440.5" fill="none" stroke="#0000ff" stroke-width="1.6" stroke-linecap="round" stroke-linejoin="round"/>
<rect x="366.80" y="233.00" width="7.0" height="7.0" fill="#0000ff"/>
<rect x="392.35" y="299.95" width="4.7" height="4.7" fill="#0000ff"/>
<rect x="401.15" y="344.85" width="4.7" height="4.7" fill="#0000ff"/>
<rect x="408.95" y="379.65" width="4.7" height="4.7" fill="#0000ff"/>
<rect x="413.00" y="408.00" width="7.0" height="7.0" fill="#0000ff"/>
<rect x="419.85" y="425.05" width="4.7" height="4.7" fill="#0000ff"/>
<rect x="432.15" y="436.45" width="4.7" height="4.7" fill="#0000ff"/>
<rect x="449.85" y="439.45" width="4.7" height="4.7" fill="#0000ff"/>
<path d="M221.4,290.2 C234.7,289.9 238.4,290.4 261.2,289.3 C284.0,288.2 277.8,287.4 289.8,286.8 C301.8,286.2 287.2,286.6 297.3,287.5 C307.4,288.4 305.9,288.1 320.0,289.5 C334.1,290.9 328.2,288.3 339.5,291.6 C350.8,294.9 344.2,294.3 353.9,299.3 C363.6,304.3 359.3,302.0 368.6,306.7 C377.9,311.4 366.9,301.4 381.7,313.3 C396.5,325.2 395.3,322.4 413.1,342.4 C430.9,362.4 421.2,351.9 435.0,373.3 C448.8,394.7 443.8,389.7 454.6,406.6 C465.4,423.5 459.4,412.7 467.4,424.0 C475.4,435.3 474.8,435.0 478.5,440.5" fill="none" stroke="#00ff00" stroke-width="1.6" stroke-linecap="round" stroke-linejoin="round"/>
<circle cx="221.4" cy="290.2" r="3.7" fill="#00ff00"/>
<circle cx="261.2" cy="290.2" r="2.5" fill="#00ff00"/>
<circle cx="297.3" cy="288.4" r="2.5" fill="#00ff00"/>
<circle cx="339.5" cy="292.3" r="2.5" fill="#00ff00"/>
<circle cx="381.7" cy="313.3" r="3.7" fill="#00ff00"/>
<circle cx="413.1" cy="343.3" r="2.5" fill="#00ff00"/>
<circle cx="435" cy="374.2" r="2.5" fill="#00ff00"/>
<circle cx="454.6" cy="407.5" r="2.5" fill="#00ff00"/>
<text x="472.96" y="444.93" font-size="12.30" fill="#000" stroke="#000" stroke-width="0.7" stroke-linejoin="miter" font-family="DejaVu Sans, sans-serif" text-rendering="geometricPrecision">★</text>
<path d="M425.9,333.0 C427.8,338.7 429.2,339.4 431.5,350.0 C433.8,360.6 433.2,354.7 432.7,364.7 C432.2,374.7 431.2,370.7 430.0,380.0 C428.8,389.3 429.4,380.0 429.0,392.7 C428.6,405.4 427.9,401.7 428.8,418.0 C429.7,434.3 429.3,430.5 431.8,441.6 C434.3,452.7 433.3,446.6 436.3,451.2 C439.3,455.8 434.9,450.3 440.9,455.4 C446.9,460.5 443.7,460.5 454.3,466.4 C464.9,472.3 460.5,468.2 472.6,473.2 C484.7,478.2 484.6,478.7 490.6,481.5" fill="none" stroke="#ff0000" stroke-width="1.6" stroke-linecap="round" stroke-linejoin="round"/>
<polygon points="421.85,335.30 429.95,335.30 425.90,328.40" fill="#ff0000"/>
<polygon points="430.00,368.05 435.40,368.05 432.70,363.75" fill="#ff0000"/>
<polygon points="426.30,396.05 431.70,396.05 429.00,391.75" fill="#ff0000"/>
<polygon points="426.10,421.35 431.50,421.35 428.80,417.05" fill="#ff0000"/>
<polygon points="427.75,443.90 435.85,443.90 431.80,437.00" fill="#ff0000"/>
<polygon points="438.20,458.75 443.60,458.75 440.90,454.45" fill="#ff0000"/>
<polygon points="451.60,469.75 457.00,469.75 454.30,465.45" fill="#ff0000"/>
<polygon points="469.90,476.55 475.30,476.55 472.60,472.25" fill="#ff0000"/>
<path d="M307.5,221.4 C313.7,222.0 315.5,222.1 326.1,223.1 C336.7,224.1 331.3,223.4 339.2,224.4 C347.1,225.4 343.2,224.7 349.7,226.0 C356.2,227.3 352.0,226.7 358.8,228.3 C365.6,229.9 362.7,228.6 370.0,230.9 C377.3,233.2 374.3,232.0 380.7,235.2 C387.1,238.4 384.0,236.5 389.3,240.6 C394.6,244.7 391.6,242.0 396.6,247.5 C401.6,253.0 399.6,250.4 404.3,257.2 C409.0,264.0 406.8,260.7 410.8,267.9 C414.8,275.1 413.0,271.5 416.2,278.7 C419.4,285.9 418.1,282.3 420.4,289.4 C422.7,296.5 421.7,294.6 423.1,300.1 C424.5,305.6 422.0,298.0 424.6,306.0 C427.2,314.0 426.1,310.9 431.0,324.0 C435.9,337.1 431.2,325.6 439.4,345.4 C447.6,365.2 446.3,357.7 455.6,383.3 C464.9,408.9 461.6,401.6 467.4,422.2 C473.2,442.8 469.5,433.0 473.0,445.0 C476.5,457.0 474.7,449.5 478.0,458.3 C481.3,467.1 478.8,463.8 483.0,471.5 C487.2,479.2 488.1,478.2 490.6,481.5" fill="none" stroke="#0000ff" stroke-width="1.6" stroke-linecap="round" stroke-linejoin="round"/>
<rect x="304.00" y="217.90" width="7.0" height="7.0" fill="#0000ff"/>
<rect x="347.35" y="225.55" width="4.7" height="4.7" fill="#0000ff"/>
<rect x="394.45" y="246.45" width="4.7" height="4.7" fill="#0000ff"/>
<rect x="421.35" y="301.05" width="4.7" height="4.7" fill="#0000ff"/>
<rect x="435.90" y="341.90" width="7.0" height="7.0" fill="#0000ff"/>
<rect x="453.25" y="382.85" width="4.7" height="4.7" fill="#0000ff"/>
<rect x="465.05" y="421.75" width="4.7" height="4.7" fill="#0000ff"/>
<rect x="475.65" y="457.85" width="4.7" height="4.7" fill="#0000ff"/>
<path d="M217.9,247.2 C223.9,246.9 218.4,247.2 236.0,246.3 C253.6,245.4 251.8,246.1 270.8,244.5 C289.8,242.9 278.4,244.4 293.0,241.5 C307.6,238.6 303.6,238.6 314.6,235.7 C325.6,232.8 317.9,234.4 326.1,232.9 C334.3,231.4 331.3,231.9 339.2,231.3 C347.1,230.7 343.2,230.9 349.7,231.0 C356.2,231.1 352.4,230.7 358.8,231.6 C365.2,232.5 361.7,231.7 369.0,233.8 C376.3,235.9 373.2,234.8 380.7,237.9 C388.2,241.0 384.3,239.1 391.5,243.2 C398.7,247.3 395.1,245.2 402.2,250.2 C409.3,255.2 406.4,252.9 412.9,258.3 C419.4,263.7 416.6,261.1 421.7,266.3 C426.8,271.5 423.8,268.3 428.3,274.0 C432.8,279.7 430.9,277.3 435.3,283.3 C439.7,289.3 437.7,286.2 441.5,292.1 C445.3,298.0 443.6,295.0 446.8,300.9 C450.0,306.8 449.1,304.9 451.2,309.8 C453.3,314.7 451.1,310.5 453.2,315.6 C455.3,320.7 454.1,315.2 457.4,325.0 C460.7,334.8 458.6,329.3 463.0,345.0 C467.4,360.7 465.4,349.1 470.5,372.1 C475.6,395.1 474.4,394.9 478.3,414.0 C482.2,433.1 480.0,414.1 482.1,429.4 C484.2,444.7 481.7,442.6 484.5,460.0 C487.3,477.4 488.6,474.3 490.6,481.5" fill="none" stroke="#00ff00" stroke-width="1.6" stroke-linecap="round" stroke-linejoin="round"/>
<circle cx="217.9" cy="247.2" r="3.7" fill="#00ff00"/>
<circle cx="270.8" cy="245.4" r="2.5" fill="#00ff00"/>
<circle cx="314.6" cy="236.6" r="2.5" fill="#00ff00"/>
<circle cx="369" cy="234.7" r="2.5" fill="#00ff00"/>
<circle cx="421.7" cy="266.3" r="3.7" fill="#00ff00"/>
<circle cx="453.4" cy="316.4" r="2.5" fill="#00ff00"/>
<circle cx="470.5" cy="373" r="2.5" fill="#00ff00"/>
<circle cx="482.1" cy="430.3" r="2.5" fill="#00ff00"/>
<text x="485.06" y="485.93" font-size="12.30" fill="#000" stroke="#000" stroke-width="0.7" stroke-linejoin="miter" font-family="DejaVu Sans, sans-serif" text-rendering="geometricPrecision">★</text>
</g>
<g stroke="#000" stroke-width="1" fill="none">
<path d="M95.5,197.5 V630.5 M516.5,197.5 V630.5"/>
<path d="M95,198 H517 M95,522 H517 M95,603 H517 M95,630 H517"/>
</g>
<text x="228.2" y="153.0" font-size="13.7" textLength="155.0" lengthAdjust="spacingAndGlyphs" font-family="Liberation Sans, sans-serif">NOAA HYSPLIT MODEL</text>
<text x="120.5" y="169.7" font-size="16.3" textLength="376.6" lengthAdjust="spacingAndGlyphs" font-family="Liberation Sans, sans-serif">Backward trajectories ending at 0000 UTC 16 Mar 12</text>
<text x="230.3" y="187.1" font-size="13.7" textLength="167.4" lengthAdjust="spacingAndGlyphs" font-family="Liberation Sans, sans-serif">GDAS Meteorological Data</text>
<text transform="translate(87.3,432) rotate(-90)" font-size="14" textLength="42.3" lengthAdjust="spacingAndGlyphs" font-family="Liberation Sans, sans-serif" stroke="#000" stroke-width="0.2">Source</text>
<text transform="translate(87.3,359) rotate(-90)" font-size="14" textLength="121.6" lengthAdjust="spacingAndGlyphs" font-family="Liberation Sans, sans-serif" stroke="#000" stroke-width="0.2">at multiple locations</text>
<text transform="translate(87.3,595.2) rotate(-90)" font-size="14" textLength="73.6" lengthAdjust="spacingAndGlyphs" font-family="Liberation Sans, sans-serif" stroke="#000" stroke-width="0.2">Meters AGL</text>
<text x="104.2" y="545.9" font-size="10.5" textLength="26.1" lengthAdjust="spacingAndGlyphs" font-family="Liberation Sans, sans-serif" stroke="#000" stroke-width="0.2">3000</text>
<text x="104.2" y="575.9" font-size="10.5" textLength="26.1" lengthAdjust="spacingAndGlyphs" font-family="Liberation Sans, sans-serif" stroke="#000" stroke-width="0.2">1500</text>
<text x="107.6" y="595.9" font-size="10.5" textLength="19.3" lengthAdjust="spacingAndGlyphs" font-family="Liberation Sans, sans-serif" stroke="#000" stroke-width="0.2">500</text>
<text x="485.8" y="595.8" font-size="10" textLength="19.0" lengthAdjust="spacingAndGlyphs" font-family="Liberation Sans, sans-serif" stroke="#000" stroke-width="0.2">500</text>
<text x="482.5" y="585.8" font-size="10" textLength="25.6" lengthAdjust="spacingAndGlyphs" font-family="Liberation Sans, sans-serif" stroke="#000" stroke-width="0.2">1000</text>
<text x="482.5" y="575.8" font-size="10" textLength="25.6" lengthAdjust="spacingAndGlyphs" font-family="Liberation Sans, sans-serif" stroke="#000" stroke-width="0.2">1500</text>
<text x="482.5" y="565.8" font-size="10" textLength="25.6" lengthAdjust="spacingAndGlyphs" font-family="Liberation Sans, sans-serif" stroke="#000" stroke-width="0.2">2000</text>
<text x="482.5" y="555.8" font-size="10" textLength="25.6" lengthAdjust="spacingAndGlyphs" font-family="Liberation Sans, sans-serif" stroke="#000" stroke-width="0.2">2500</text>
<text x="482.5" y="545.8" font-size="10" textLength="25.6" lengthAdjust="spacingAndGlyphs" font-family="Liberation Sans, sans-serif" stroke="#000" stroke-width="0.2">3000</text>
<text x="482.5" y="535.8" font-size="10" textLength="25.6" lengthAdjust="spacingAndGlyphs" font-family="Liberation Sans, sans-serif" stroke="#000" stroke-width="0.2">3500</text>
<text x="180.1" y="616.9" font-size="10.0" textLength="10.0" lengthAdjust="spacingAndGlyphs" text-rendering="geometricPrecision" font-family="Liberation Sans, sans-serif" stroke="#000" stroke-width="0.2">18</text>
<text x="220.6" y="616.9" font-size="10.0" textLength="10.0" lengthAdjust="spacingAndGlyphs" text-rendering="geometricPrecision" font-family="Liberation Sans, sans-serif" stroke="#000" stroke-width="0.2">12</text>
<text x="261.2" y="616.9" font-size="10.0" textLength="10.0" lengthAdjust="spacingAndGlyphs" text-rendering="geometricPrecision" font-family="Liberation Sans, sans-serif" stroke="#000" stroke-width="0.2">06</text>
<text x="301.7" y="616.9" font-size="10.0" textLength="10.0" lengthAdjust="spacingAndGlyphs" text-rendering="geometricPrecision" font-family="Liberation Sans, sans-serif" stroke="#000" stroke-width="0.2">00</text>
<text x="342.2" y="616.9" font-size="10.0" textLength="10.0" lengthAdjust="spacingAndGlyphs" text-rendering="geometricPrecision" font-family="Liberation Sans, sans-serif" stroke="#000" stroke-width="0.2">18</text>
<text x="382.7" y="616.9" font-size="10.0" textLength="10.0" lengthAdjust="spacingAndGlyphs" text-rendering="geometricPrecision" font-family="Liberation Sans, sans-serif" stroke="#000" stroke-width="0.2">12</text>
<text x="423.2" y="616.9" font-size="10.0" textLength="10.0" lengthAdjust="spacingAndGlyphs" text-rendering="geometricPrecision" font-family="Liberation Sans, sans-serif" stroke="#000" stroke-width="0.2">06</text>
<text x="463.8" y="616.9" font-size="10.0" textLength="10.0" lengthAdjust="spacingAndGlyphs" text-rendering="geometricPrecision" font-family="Liberation Sans, sans-serif" stroke="#000" stroke-width="0.2">00</text>
<path d="M185.0,603 V608.2 M225.5,603 V608.2 M266.1,603 V608.2 M306.6,603 V608.2 M347.1,603 V608.2 M387.6,603 V608.2 M428.1,603 V608.2 M468.7,603 V608.2" stroke="#333" stroke-width="0.7" fill="none"/>
<text x="294.4" y="626.9" font-size="9.8" textLength="24.2" lengthAdjust="spacingAndGlyphs" text-rendering="geometricPrecision" font-family="Liberation Sans, sans-serif" stroke="#000" stroke-width="0.2">03/15</text>
<text x="456.2" y="626.9" font-size="9.8" textLength="24.2" lengthAdjust="spacingAndGlyphs" text-rendering="geometricPrecision" font-family="Liberation Sans, sans-serif" stroke="#000" stroke-width="0.2">03/14</text>
<text x="138.56" y="546.43" font-size="12.30" fill="#000" stroke="#000" stroke-width="0.7" stroke-linejoin="miter" font-family="DejaVu Sans, sans-serif" text-rendering="geometricPrecision">★</text>
<text x="138.56" y="576.43" font-size="12.30" fill="#000" stroke="#000" stroke-width="0.7" stroke-linejoin="miter" font-family="DejaVu Sans, sans-serif" text-rendering="geometricPrecision">★</text>
<text x="138.56" y="596.43" font-size="12.30" fill="#000" stroke="#000" stroke-width="0.7" stroke-linejoin="miter" font-family="DejaVu Sans, sans-serif" text-rendering="geometricPrecision">★</text>
<defs><clipPath id="pc"><rect x="96" y="521" width="420" height="82"/></clipPath></defs><g clip-path="url(#pc)">
<path d="M144.0,592.5 C157.5,592.9 157.5,592.9 184.5,593.8 C211.5,594.7 198.0,595.0 225.0,595.1 C252.1,595.2 238.5,594.9 265.6,594.1 C292.6,593.3 279.1,593.5 306.1,592.7 C333.1,591.9 319.6,592.3 346.6,591.7 C373.6,591.1 360.1,591.0 387.1,590.8 C414.1,590.6 400.6,592.0 427.6,591.2 C454.7,590.4 454.7,589.3 468.2,588.3" fill="none" stroke="#ff0000" stroke-width="1.6" stroke-linejoin="round"/>
<polygon points="181.80,597.15 187.20,597.15 184.50,592.85" fill="#ff0000"/>
<polygon points="222.30,598.45 227.70,598.45 225.00,594.15" fill="#ff0000"/>
<polygon points="262.90,597.45 268.30,597.45 265.60,593.15" fill="#ff0000"/>
<polygon points="302.05,595.00 310.15,595.00 306.10,588.10" fill="#ff0000"/>
<polygon points="343.90,595.05 349.30,595.05 346.60,590.75" fill="#ff0000"/>
<polygon points="384.40,594.15 389.80,594.15 387.10,589.85" fill="#ff0000"/>
<polygon points="424.90,594.55 430.30,594.55 427.60,590.25" fill="#ff0000"/>
<polygon points="464.15,590.60 472.25,590.60 468.20,583.70" fill="#ff0000"/>
<path d="M144.0,592.5 C157.5,592.8 157.5,593.7 184.5,593.4 C211.5,593.1 198.0,593.1 225.0,591.7 C252.1,590.3 238.5,590.7 265.6,589.2 C292.6,587.7 279.1,588.4 306.1,587.3 C333.1,586.2 319.6,586.4 346.6,586.0 C373.6,585.6 360.1,585.7 387.1,586.0 C414.1,586.3 408.5,586.2 427.6,586.8 C446.8,587.4 431.0,586.3 444.5,587.8 C458.0,589.3 460.3,590.2 468.2,591.4" fill="none" stroke="#ff0000" stroke-width="1.6" stroke-linejoin="round"/>
<polygon points="181.80,596.75 187.20,596.75 184.50,592.45" fill="#ff0000"/>
<polygon points="222.30,595.05 227.70,595.05 225.00,590.75" fill="#ff0000"/>
<polygon points="262.90,592.55 268.30,592.55 265.60,588.25" fill="#ff0000"/>
<polygon points="302.05,589.60 310.15,589.60 306.10,582.70" fill="#ff0000"/>
<polygon points="343.90,589.35 349.30,589.35 346.60,585.05" fill="#ff0000"/>
<polygon points="384.40,589.35 389.80,589.35 387.10,585.05" fill="#ff0000"/>
<polygon points="424.90,590.15 430.30,590.15 427.60,585.85" fill="#ff0000"/>
<polygon points="464.15,593.70 472.25,593.70 468.20,586.80" fill="#ff0000"/>
<path d="M144.0,592.5 C157.5,592.9 157.5,593.2 184.5,593.6 C211.5,594.0 198.0,594.4 225.0,593.8 C252.1,593.2 238.5,592.9 265.6,591.7 C292.6,590.5 279.1,591.1 306.1,590.3 C333.1,589.5 319.6,589.7 346.6,589.2 C373.6,588.7 360.1,588.8 387.1,588.8 C414.1,588.8 409.6,589.3 427.6,589.2 C445.6,589.1 427.6,589.9 441.1,588.6 C454.7,587.3 459.2,586.5 468.2,585.4" fill="none" stroke="#ff0000" stroke-width="1.6" stroke-linejoin="round"/>
<polygon points="181.80,596.95 187.20,596.95 184.50,592.65" fill="#ff0000"/>
<polygon points="222.30,597.15 227.70,597.15 225.00,592.85" fill="#ff0000"/>
<polygon points="262.90,595.05 268.30,595.05 265.60,590.75" fill="#ff0000"/>
<polygon points="302.05,592.60 310.15,592.60 306.10,585.70" fill="#ff0000"/>
<polygon points="343.90,592.55 349.30,592.55 346.60,588.25" fill="#ff0000"/>
<polygon points="384.40,592.15 389.80,592.15 387.10,587.85" fill="#ff0000"/>
<polygon points="424.90,592.55 430.30,592.55 427.60,588.25" fill="#ff0000"/>
<polygon points="464.15,587.70 472.25,587.70 468.20,580.80" fill="#ff0000"/>
<path d="M144.0,572.5 C157.5,572.8 157.5,574.1 184.5,573.3 C211.5,572.5 198.0,571.7 225.0,570.1 C252.1,568.5 238.5,569.3 265.6,568.4 C292.6,567.5 279.1,567.4 306.1,567.4 C333.1,567.4 319.6,568.8 346.6,568.4 C373.6,568.0 360.1,567.0 387.1,566.1 C414.1,565.2 400.6,565.9 427.6,565.7 C454.7,565.5 454.7,565.5 468.2,565.4" fill="none" stroke="#0000ff" stroke-width="1.6" stroke-linejoin="round"/>
<rect x="182.15" y="572.35" width="4.7" height="4.7" fill="#0000ff"/>
<rect x="222.65" y="569.15" width="4.7" height="4.7" fill="#0000ff"/>
<rect x="263.25" y="567.45" width="4.7" height="4.7" fill="#0000ff"/>
<rect x="302.60" y="563.90" width="7.0" height="7.0" fill="#0000ff"/>
<rect x="344.25" y="567.45" width="4.7" height="4.7" fill="#0000ff"/>
<rect x="384.75" y="565.15" width="4.7" height="4.7" fill="#0000ff"/>
<rect x="425.25" y="564.75" width="4.7" height="4.7" fill="#0000ff"/>
<rect x="464.70" y="561.90" width="7.0" height="7.0" fill="#0000ff"/>
<path d="M144.0,572.5 C157.5,571.7 157.5,572.0 184.5,570.1 C211.5,568.2 198.0,568.2 225.0,566.8 C252.1,565.4 238.5,566.1 265.6,566.0 C292.6,565.9 289.2,566.9 306.1,566.4 C323.0,565.9 307.7,566.7 316.2,564.6 C324.8,562.5 321.6,561.3 331.7,560.2 C341.9,559.1 328.1,561.7 346.6,561.4 C365.1,561.1 371.1,560.2 387.1,559.4 C403.1,558.6 388.2,557.8 394.5,558.9 C400.9,560.0 399.1,559.8 406.0,562.6 C413.0,565.4 408.3,563.8 415.5,567.2 C422.7,570.6 416.8,568.9 427.6,572.8 C438.4,576.7 434.4,576.3 447.9,578.9 C461.4,581.5 461.4,580.0 468.2,580.5" fill="none" stroke="#0000ff" stroke-width="1.6" stroke-linejoin="round"/>
<rect x="182.15" y="569.15" width="4.7" height="4.7" fill="#0000ff"/>
<rect x="222.65" y="565.85" width="4.7" height="4.7" fill="#0000ff"/>
<rect x="263.25" y="565.05" width="4.7" height="4.7" fill="#0000ff"/>
<rect x="302.60" y="562.90" width="7.0" height="7.0" fill="#0000ff"/>
<rect x="344.25" y="560.45" width="4.7" height="4.7" fill="#0000ff"/>
<rect x="384.75" y="558.45" width="4.7" height="4.7" fill="#0000ff"/>
<rect x="425.25" y="571.85" width="4.7" height="4.7" fill="#0000ff"/>
<rect x="464.70" y="577.00" width="7.0" height="7.0" fill="#0000ff"/>
<path d="M144.0,542.5 C157.5,541.7 157.5,541.4 184.5,540.2 C211.5,539.0 198.0,539.2 225.0,538.9 C252.1,538.6 238.5,540.6 265.6,539.4 C292.6,538.2 279.1,537.2 306.1,535.3 C333.1,533.4 319.6,534.2 346.6,533.7 C373.6,533.2 360.1,533.8 387.1,533.7 C414.1,533.6 400.6,533.2 427.6,533.4 C454.7,533.6 454.7,534.1 468.2,534.4" fill="none" stroke="#00ff00" stroke-width="1.6" stroke-linejoin="round"/>
<circle cx="184.5" cy="541.2" r="2.5" fill="#00ff00"/>
<circle cx="225.0" cy="539.9" r="2.5" fill="#00ff00"/>
<circle cx="265.6" cy="540.4" r="2.5" fill="#00ff00"/>
<circle cx="306.1" cy="535.3" r="3.7" fill="#00ff00"/>
<circle cx="346.6" cy="534.7" r="2.5" fill="#00ff00"/>
<circle cx="387.1" cy="534.7" r="2.5" fill="#00ff00"/>
<circle cx="427.6" cy="534.4" r="2.5" fill="#00ff00"/>
<circle cx="468.2" cy="534.4" r="3.7" fill="#00ff00"/>
<path d="M144.0,572.5 C157.5,570.6 164.3,570.0 184.5,566.8 C204.8,563.6 191.3,564.9 204.8,563.0 C218.3,561.1 204.8,561.6 225.0,561.1 C245.3,560.6 238.5,561.5 265.6,561.4 C292.6,561.3 285.8,561.5 306.1,560.8 C326.3,560.1 312.8,560.3 326.3,559.3 C339.8,558.3 326.3,559.4 346.6,557.8 C366.9,556.2 360.1,557.4 387.1,554.4 C414.1,551.4 407.4,553.1 427.6,548.8 C447.9,544.5 434.4,546.1 447.9,541.5 C461.4,536.9 461.4,537.2 468.2,535.0" fill="none" stroke="#0000ff" stroke-width="1.6" stroke-linejoin="round"/>
<rect x="182.15" y="565.85" width="4.7" height="4.7" fill="#0000ff"/>
<rect x="222.65" y="560.15" width="4.7" height="4.7" fill="#0000ff"/>
<rect x="263.25" y="560.45" width="4.7" height="4.7" fill="#0000ff"/>
<rect x="302.60" y="557.30" width="7.0" height="7.0" fill="#0000ff"/>
<rect x="344.25" y="556.85" width="4.7" height="4.7" fill="#0000ff"/>
<rect x="384.75" y="553.45" width="4.7" height="4.7" fill="#0000ff"/>
<rect x="425.25" y="547.85" width="4.7" height="4.7" fill="#0000ff"/>
<rect x="464.70" y="531.50" width="7.0" height="7.0" fill="#0000ff"/>
<path d="M144.0,542.5 C157.5,542.8 157.5,544.0 184.5,543.4 C211.5,542.8 198.0,541.4 225.0,540.6 C252.1,539.8 238.5,541.6 265.6,541.0 C292.6,540.4 285.8,538.4 306.1,538.8 C326.3,539.2 312.8,541.8 326.3,542.3 C339.8,542.8 326.3,541.0 346.6,540.2 C366.9,539.4 360.1,540.5 387.1,539.9 C414.1,539.3 400.6,539.2 427.6,538.3 C454.7,537.4 454.7,537.6 468.2,537.2" fill="none" stroke="#00ff00" stroke-width="1.6" stroke-linejoin="round"/>
<circle cx="184.5" cy="544.4" r="2.5" fill="#00ff00"/>
<circle cx="225.0" cy="541.6" r="2.5" fill="#00ff00"/>
<circle cx="265.6" cy="542.0" r="2.5" fill="#00ff00"/>
<circle cx="306.1" cy="538.8" r="3.7" fill="#00ff00"/>
<circle cx="346.6" cy="541.2" r="2.5" fill="#00ff00"/>
<circle cx="387.1" cy="540.9" r="2.5" fill="#00ff00"/>
<circle cx="427.6" cy="539.3" r="2.5" fill="#00ff00"/>
<circle cx="468.2" cy="537.2" r="3.7" fill="#00ff00"/>
<path d="M144.0,542.5 C157.5,540.9 157.5,541.7 184.5,537.6 C211.5,533.5 198.0,534.2 225.0,530.1 C252.1,526.0 242.8,527.6 265.6,525.2 C288.3,522.8 279.7,523.3 293.2,522.9 C306.8,522.5 295.0,521.7 306.1,524.1 C317.1,526.5 316.2,528.5 326.3,530.2 C336.5,531.9 329.7,529.2 336.5,529.2 C343.2,529.2 329.7,529.7 346.6,530.1 C363.5,530.5 360.1,530.5 387.1,530.3 C414.1,530.1 400.6,530.6 427.6,529.6 C454.7,528.6 454.7,528.1 468.2,527.4" fill="none" stroke="#00ff00" stroke-width="1.6" stroke-linejoin="round"/>
<circle cx="184.5" cy="538.6" r="2.5" fill="#00ff00"/>
<circle cx="225.0" cy="531.1" r="2.5" fill="#00ff00"/>
<circle cx="265.6" cy="526.2" r="2.5" fill="#00ff00"/>
<circle cx="306.1" cy="524.1" r="3.7" fill="#00ff00"/>
<circle cx="346.6" cy="531.1" r="2.5" fill="#00ff00"/>
<circle cx="387.1" cy="531.3" r="2.5" fill="#00ff00"/>
<circle cx="427.6" cy="530.6" r="2.5" fill="#00ff00"/>
<circle cx="468.2" cy="527.4" r="3.7" fill="#00ff00"/>
</g>
<path d="M137.1,592.5 H476 M137.1,582.5 H476 M137.1,572.5 H476 M137.1,562.5 H476 M137.1,552.5 H476 M137.1,542.5 H476 M137.1,532.5 H476" fill="none" stroke="#6a6a6a" stroke-width="0.55" stroke-dasharray="6.6,5.4"/>
<text transform="translate(86.9,382.2) rotate(-90)" font-size="13.6" font-family="DejaVu Sans, sans-serif" text-rendering="geometricPrecision">★</text>
</svg></body></html>
